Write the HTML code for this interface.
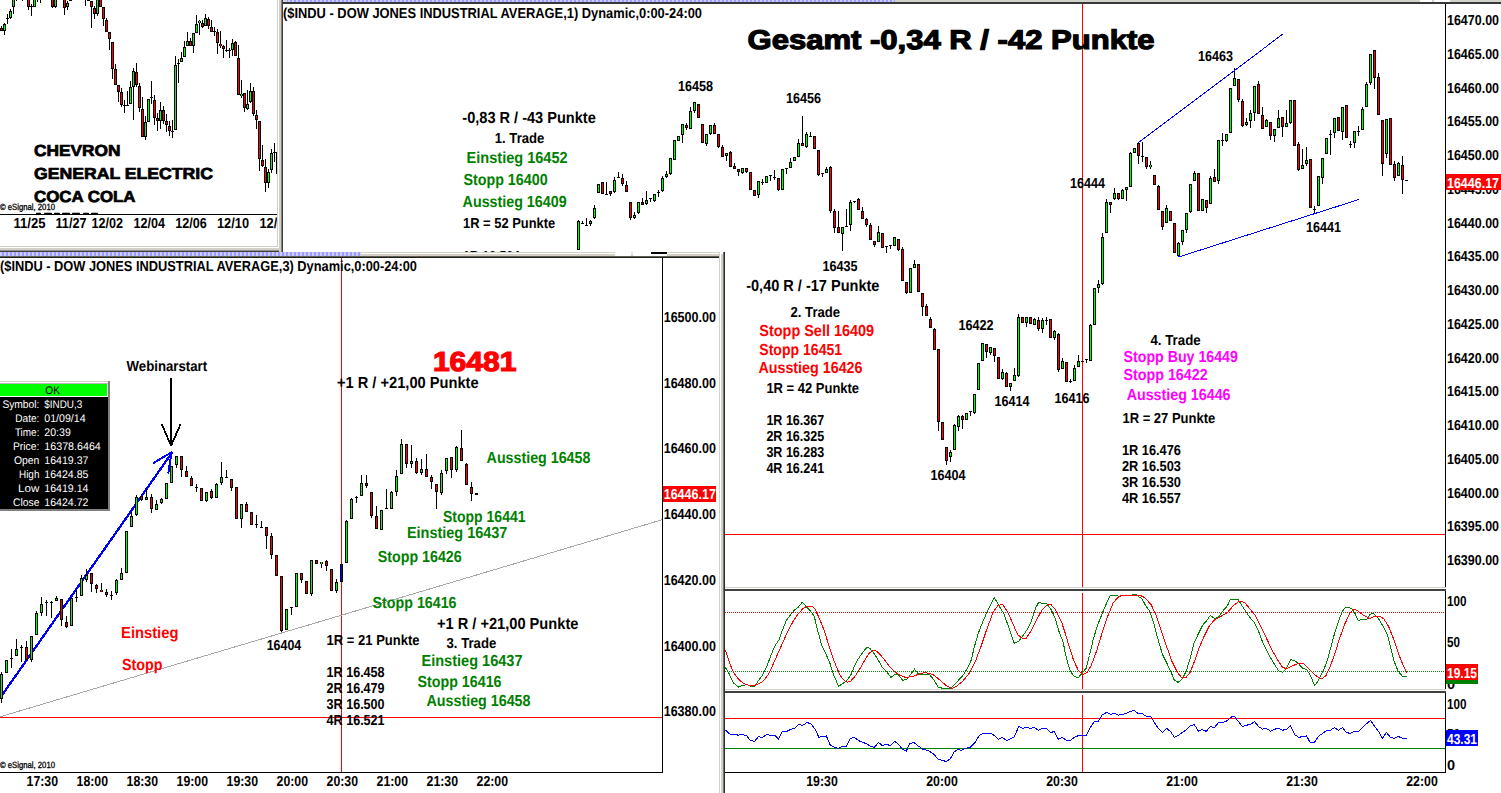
<!DOCTYPE html>
<html><head><meta charset="utf-8"><title>Chart</title>
<style>
html,body{margin:0;padding:0;background:#fff;overflow:hidden}
svg{display:block;font-family:"Liberation Sans",sans-serif;text-rendering:geometricPrecision}
text{white-space:pre}
</style></head>
<body>
<svg width="1501" height="793" viewBox="0 0 1501 793">
<defs>
<pattern id="purple" width="4" height="4" patternUnits="userSpaceOnUse"><rect width="4" height="4" fill="#ccccff"/><rect x="2" width="2" height="4" fill="#9c9cff"/></pattern>
<clipPath id="cTL"><rect x="0" y="0" width="277" height="246"/></clipPath>
<clipPath id="cTL4"><rect x="0" y="212.6" width="277" height="1.4"/></clipPath>
<clipPath id="cMain"><rect x="283" y="4" width="1162" height="583"/></clipPath>
<clipPath id="cT1"><rect x="283" y="0" width="500" height="252"/></clipPath>
<clipPath id="c45"><rect x="1446" y="190" width="55" height="10"/></clipPath>
<clipPath id="cBL"><rect x="0" y="258" width="662" height="514"/></clipPath>
</defs>
<rect x="0" y="0" width="1501" height="793" fill="#fff"/>
<g clip-path="url(#cTL)" shape-rendering="crispEdges">
<rect x="1" y="26" width="1" height="5" fill="#000"/>
<rect x="0" y="28" width="3" height="3" fill="#000"/>
<rect x="1" y="29" width="1" height="1" fill="#ff0000"/>
<rect x="4" y="23" width="1" height="12" fill="#000"/>
<rect x="3" y="24" width="3" height="7" fill="#000"/>
<rect x="4" y="25" width="1" height="5" fill="#00ff00"/>
<rect x="7" y="14" width="1" height="10" fill="#000"/>
<rect x="6" y="18" width="3" height="1" fill="#000"/>
<rect x="10" y="9" width="1" height="10" fill="#000"/>
<rect x="9" y="11" width="3" height="7" fill="#000"/>
<rect x="10" y="12" width="1" height="5" fill="#00ff00"/>
<rect x="13" y="-2" width="1" height="16" fill="#000"/>
<rect x="12" y="-2" width="3" height="9" fill="#000"/>
<rect x="13" y="-1" width="1" height="7" fill="#00ff00"/>
<rect x="16" y="-2" width="1" height="3" fill="#000"/>
<rect x="15" y="-2" width="3" height="1" fill="#000"/>
<rect x="22" y="-2" width="1" height="3" fill="#000"/>
<rect x="21" y="-2" width="3" height="1" fill="#000"/>
<rect x="28" y="-2" width="1" height="12" fill="#000"/>
<rect x="27" y="-2" width="3" height="9" fill="#000"/>
<rect x="28" y="-1" width="1" height="7" fill="#ff0000"/>
<rect x="31" y="4" width="1" height="12" fill="#000"/>
<rect x="30" y="6" width="3" height="1" fill="#000"/>
<rect x="33" y="-2" width="3" height="9" fill="#000"/>
<rect x="34" y="-1" width="1" height="7" fill="#00ff00"/>
<rect x="37" y="-2" width="1" height="4" fill="#000"/>
<rect x="36" y="-2" width="3" height="1" fill="#000"/>
<rect x="40" y="-2" width="1" height="5" fill="#000"/>
<rect x="39" y="-2" width="3" height="1" fill="#000"/>
<rect x="52" y="-2" width="1" height="10" fill="#000"/>
<rect x="51" y="-2" width="3" height="9" fill="#000"/>
<rect x="52" y="-1" width="1" height="7" fill="#ff0000"/>
<rect x="55" y="-2" width="1" height="10" fill="#000"/>
<rect x="54" y="-2" width="3" height="9" fill="#000"/>
<rect x="55" y="-1" width="1" height="7" fill="#00ff00"/>
<rect x="64" y="-2" width="1" height="17" fill="#000"/>
<rect x="63" y="-2" width="3" height="10" fill="#000"/>
<rect x="64" y="-1" width="1" height="8" fill="#ff0000"/>
<rect x="67" y="1" width="1" height="9" fill="#000"/>
<rect x="66" y="3" width="3" height="4" fill="#000"/>
<rect x="67" y="4" width="1" height="2" fill="#00ff00"/>
<rect x="69" y="-2" width="3" height="3" fill="#000"/>
<rect x="70" y="-1" width="1" height="1" fill="#00ff00"/>
<rect x="85" y="-2" width="1" height="8" fill="#000"/>
<rect x="84" y="-2" width="3" height="1" fill="#000"/>
<rect x="87" y="0" width="3" height="1" fill="#000"/>
<rect x="91" y="1" width="1" height="27" fill="#000"/>
<rect x="90" y="1" width="3" height="6" fill="#000"/>
<rect x="91" y="2" width="1" height="4" fill="#ff0000"/>
<rect x="94" y="6" width="1" height="13" fill="#000"/>
<rect x="93" y="8" width="3" height="6" fill="#000"/>
<rect x="94" y="9" width="1" height="4" fill="#ff0000"/>
<rect x="97" y="-2" width="1" height="18" fill="#000"/>
<rect x="96" y="-2" width="3" height="16" fill="#000"/>
<rect x="97" y="-1" width="1" height="14" fill="#00ff00"/>
<rect x="99" y="-2" width="3" height="9" fill="#000"/>
<rect x="100" y="-1" width="1" height="7" fill="#ff0000"/>
<rect x="103" y="7" width="1" height="19" fill="#000"/>
<rect x="102" y="7" width="3" height="12" fill="#000"/>
<rect x="103" y="8" width="1" height="10" fill="#ff0000"/>
<rect x="106" y="18" width="1" height="14" fill="#000"/>
<rect x="105" y="20" width="3" height="12" fill="#000"/>
<rect x="106" y="21" width="1" height="10" fill="#ff0000"/>
<rect x="109" y="32" width="1" height="18" fill="#000"/>
<rect x="108" y="32" width="3" height="7" fill="#000"/>
<rect x="109" y="33" width="1" height="5" fill="#ff0000"/>
<rect x="112" y="42" width="1" height="37" fill="#000"/>
<rect x="111" y="42" width="3" height="27" fill="#000"/>
<rect x="112" y="43" width="1" height="25" fill="#ff0000"/>
<rect x="115" y="64" width="1" height="21" fill="#000"/>
<rect x="114" y="69" width="3" height="16" fill="#000"/>
<rect x="115" y="70" width="1" height="14" fill="#ff0000"/>
<rect x="118" y="85" width="1" height="17" fill="#000"/>
<rect x="117" y="85" width="3" height="7" fill="#000"/>
<rect x="118" y="86" width="1" height="5" fill="#ff0000"/>
<rect x="121" y="88" width="1" height="19" fill="#000"/>
<rect x="120" y="92" width="3" height="13" fill="#000"/>
<rect x="121" y="93" width="1" height="11" fill="#ff0000"/>
<rect x="124" y="100" width="1" height="13" fill="#000"/>
<rect x="123" y="105" width="3" height="1" fill="#000"/>
<rect x="127" y="91" width="1" height="15" fill="#000"/>
<rect x="126" y="105" width="3" height="1" fill="#000"/>
<rect x="130" y="81" width="1" height="23" fill="#000"/>
<rect x="129" y="87" width="3" height="17" fill="#000"/>
<rect x="130" y="88" width="1" height="15" fill="#00ff00"/>
<rect x="133" y="68" width="1" height="52" fill="#000"/>
<rect x="132" y="71" width="3" height="16" fill="#000"/>
<rect x="133" y="72" width="1" height="14" fill="#00ff00"/>
<rect x="136" y="63" width="1" height="24" fill="#000"/>
<rect x="135" y="72" width="3" height="13" fill="#000"/>
<rect x="136" y="73" width="1" height="11" fill="#ff0000"/>
<rect x="139" y="83" width="1" height="29" fill="#000"/>
<rect x="138" y="86" width="3" height="22" fill="#000"/>
<rect x="139" y="87" width="1" height="20" fill="#ff0000"/>
<rect x="142" y="97" width="1" height="40" fill="#000"/>
<rect x="141" y="109" width="3" height="28" fill="#000"/>
<rect x="142" y="110" width="1" height="26" fill="#ff0000"/>
<rect x="145" y="116" width="1" height="24" fill="#000"/>
<rect x="144" y="122" width="3" height="15" fill="#000"/>
<rect x="145" y="123" width="1" height="13" fill="#00ff00"/>
<rect x="147" y="99" width="3" height="23" fill="#000"/>
<rect x="148" y="100" width="1" height="21" fill="#00ff00"/>
<rect x="151" y="81" width="1" height="23" fill="#000"/>
<rect x="150" y="97" width="3" height="1" fill="#000"/>
<rect x="154" y="95" width="1" height="30" fill="#000"/>
<rect x="153" y="100" width="3" height="18" fill="#000"/>
<rect x="154" y="101" width="1" height="16" fill="#ff0000"/>
<rect x="157" y="113" width="1" height="18" fill="#000"/>
<rect x="156" y="118" width="3" height="3" fill="#000"/>
<rect x="157" y="119" width="1" height="1" fill="#ff0000"/>
<rect x="160" y="102" width="1" height="27" fill="#000"/>
<rect x="159" y="110" width="3" height="11" fill="#000"/>
<rect x="160" y="111" width="1" height="9" fill="#00ff00"/>
<rect x="163" y="106" width="1" height="18" fill="#000"/>
<rect x="162" y="110" width="3" height="11" fill="#000"/>
<rect x="163" y="111" width="1" height="9" fill="#ff0000"/>
<rect x="166" y="114" width="1" height="18" fill="#000"/>
<rect x="165" y="121" width="3" height="4" fill="#000"/>
<rect x="166" y="122" width="1" height="2" fill="#ff0000"/>
<rect x="169" y="121" width="1" height="15" fill="#000"/>
<rect x="168" y="126" width="3" height="5" fill="#000"/>
<rect x="169" y="127" width="1" height="3" fill="#ff0000"/>
<rect x="172" y="120" width="1" height="18" fill="#000"/>
<rect x="171" y="131" width="3" height="1" fill="#000"/>
<rect x="175" y="56" width="1" height="74" fill="#000"/>
<rect x="174" y="65" width="3" height="65" fill="#000"/>
<rect x="175" y="66" width="1" height="63" fill="#00ff00"/>
<rect x="178" y="59" width="1" height="24" fill="#000"/>
<rect x="177" y="63" width="3" height="1" fill="#000"/>
<rect x="181" y="52" width="1" height="10" fill="#000"/>
<rect x="180" y="58" width="3" height="4" fill="#000"/>
<rect x="181" y="59" width="1" height="2" fill="#00ff00"/>
<rect x="184" y="41" width="1" height="16" fill="#000"/>
<rect x="183" y="47" width="3" height="10" fill="#000"/>
<rect x="184" y="48" width="1" height="8" fill="#00ff00"/>
<rect x="187" y="32" width="1" height="14" fill="#000"/>
<rect x="186" y="41" width="3" height="5" fill="#000"/>
<rect x="187" y="42" width="1" height="3" fill="#00ff00"/>
<rect x="190" y="38" width="1" height="8" fill="#000"/>
<rect x="189" y="41" width="3" height="5" fill="#000"/>
<rect x="190" y="42" width="1" height="3" fill="#ff0000"/>
<rect x="193" y="33" width="1" height="20" fill="#000"/>
<rect x="192" y="33" width="3" height="13" fill="#000"/>
<rect x="193" y="34" width="1" height="11" fill="#00ff00"/>
<rect x="196" y="15" width="1" height="18" fill="#000"/>
<rect x="195" y="24" width="3" height="9" fill="#000"/>
<rect x="196" y="25" width="1" height="7" fill="#00ff00"/>
<rect x="199" y="20" width="1" height="15" fill="#000"/>
<rect x="198" y="21" width="3" height="2" fill="#000"/>
<rect x="199" y="21" width="1" height="2" fill="#00ff00"/>
<rect x="202" y="20" width="1" height="8" fill="#000"/>
<rect x="201" y="23" width="3" height="4" fill="#000"/>
<rect x="202" y="24" width="1" height="2" fill="#ff0000"/>
<rect x="205" y="14" width="1" height="12" fill="#000"/>
<rect x="204" y="18" width="3" height="8" fill="#000"/>
<rect x="205" y="19" width="1" height="6" fill="#00ff00"/>
<rect x="208" y="17" width="1" height="12" fill="#000"/>
<rect x="207" y="19" width="3" height="7" fill="#000"/>
<rect x="208" y="20" width="1" height="5" fill="#ff0000"/>
<rect x="211" y="20" width="1" height="12" fill="#000"/>
<rect x="210" y="27" width="3" height="5" fill="#000"/>
<rect x="211" y="28" width="1" height="3" fill="#ff0000"/>
<rect x="214" y="27" width="1" height="9" fill="#000"/>
<rect x="213" y="31" width="3" height="1" fill="#000"/>
<rect x="217" y="29" width="1" height="25" fill="#000"/>
<rect x="216" y="32" width="3" height="11" fill="#000"/>
<rect x="217" y="33" width="1" height="9" fill="#ff0000"/>
<rect x="220" y="31" width="1" height="17" fill="#000"/>
<rect x="219" y="44" width="3" height="2" fill="#000"/>
<rect x="220" y="44" width="1" height="2" fill="#ff0000"/>
<rect x="223" y="45" width="1" height="13" fill="#000"/>
<rect x="222" y="46" width="3" height="3" fill="#000"/>
<rect x="223" y="47" width="1" height="1" fill="#ff0000"/>
<rect x="226" y="40" width="1" height="12" fill="#000"/>
<rect x="225" y="50" width="3" height="1" fill="#000"/>
<rect x="229" y="48" width="1" height="10" fill="#000"/>
<rect x="228" y="50" width="3" height="1" fill="#000"/>
<rect x="232" y="39" width="1" height="17" fill="#000"/>
<rect x="231" y="43" width="3" height="7" fill="#000"/>
<rect x="232" y="44" width="1" height="5" fill="#00ff00"/>
<rect x="235" y="41" width="1" height="15" fill="#000"/>
<rect x="234" y="42" width="3" height="14" fill="#000"/>
<rect x="235" y="43" width="1" height="12" fill="#ff0000"/>
<rect x="238" y="45" width="1" height="50" fill="#000"/>
<rect x="237" y="58" width="3" height="37" fill="#000"/>
<rect x="238" y="59" width="1" height="35" fill="#ff0000"/>
<rect x="241" y="80" width="1" height="18" fill="#000"/>
<rect x="240" y="94" width="3" height="2" fill="#000"/>
<rect x="241" y="94" width="1" height="2" fill="#00ff00"/>
<rect x="244" y="93" width="1" height="19" fill="#000"/>
<rect x="243" y="93" width="3" height="15" fill="#000"/>
<rect x="244" y="94" width="1" height="13" fill="#ff0000"/>
<rect x="247" y="90" width="1" height="20" fill="#000"/>
<rect x="246" y="104" width="3" height="5" fill="#000"/>
<rect x="247" y="105" width="1" height="3" fill="#00ff00"/>
<rect x="250" y="83" width="1" height="20" fill="#000"/>
<rect x="249" y="91" width="3" height="11" fill="#000"/>
<rect x="250" y="92" width="1" height="9" fill="#00ff00"/>
<rect x="253" y="87" width="1" height="29" fill="#000"/>
<rect x="252" y="91" width="3" height="23" fill="#000"/>
<rect x="253" y="92" width="1" height="21" fill="#ff0000"/>
<rect x="256" y="110" width="1" height="19" fill="#000"/>
<rect x="255" y="115" width="3" height="5" fill="#000"/>
<rect x="256" y="116" width="1" height="3" fill="#ff0000"/>
<rect x="259" y="121" width="1" height="50" fill="#000"/>
<rect x="258" y="121" width="3" height="38" fill="#000"/>
<rect x="259" y="122" width="1" height="36" fill="#ff0000"/>
<rect x="262" y="145" width="1" height="22" fill="#000"/>
<rect x="261" y="160" width="3" height="6" fill="#000"/>
<rect x="262" y="161" width="1" height="4" fill="#ff0000"/>
<rect x="265" y="159" width="1" height="33" fill="#000"/>
<rect x="264" y="167" width="3" height="16" fill="#000"/>
<rect x="265" y="168" width="1" height="14" fill="#ff0000"/>
<rect x="268" y="169" width="1" height="19" fill="#000"/>
<rect x="267" y="172" width="3" height="11" fill="#000"/>
<rect x="268" y="173" width="1" height="9" fill="#00ff00"/>
<rect x="271" y="149" width="1" height="24" fill="#000"/>
<rect x="270" y="153" width="3" height="17" fill="#000"/>
<rect x="271" y="154" width="1" height="15" fill="#00ff00"/>
<rect x="274" y="143" width="1" height="19" fill="#000"/>
<rect x="273" y="152" width="3" height="1" fill="#000"/>
<rect x="276" y="152" width="1" height="22" fill="#000"/>
</g>
<g clip-path="url(#cTL)">
<text x="34" y="155.5" font-size="16" font-weight="bold" fill="#000" textLength="86.5" lengthAdjust="spacingAndGlyphs" stroke="#000" stroke-width="0.7" paint-order="stroke">CHEVRON</text>
<text x="34" y="178.6" font-size="16" font-weight="bold" fill="#000" textLength="179" lengthAdjust="spacingAndGlyphs" stroke="#000" stroke-width="0.7" paint-order="stroke">GENERAL ELECTRIC</text>
<text x="34" y="201.6" font-size="16" font-weight="bold" fill="#000" textLength="101.5" lengthAdjust="spacingAndGlyphs" stroke="#000" stroke-width="0.7" paint-order="stroke">COCA COLA</text>
<rect x="36" y="212.8" width="5" height="1.3" fill="#000" rx="0.6"/>
<rect x="44" y="212.8" width="8" height="1.3" fill="#000" rx="0.6"/>
<rect x="54" y="212.8" width="6" height="1.3" fill="#000" rx="0.6"/>
<rect x="62" y="212.8" width="8" height="1.3" fill="#000" rx="0.6"/>
<rect x="72" y="212.8" width="8" height="1.3" fill="#000" rx="0.6"/>
<rect x="83" y="212.8" width="6" height="1.3" fill="#000" rx="0.6"/>
<rect x="91" y="212.8" width="7" height="1.3" fill="#000" rx="0.6"/>
<text x="0" y="210.3" font-size="9" font-weight="normal" fill="#000" textLength="55" lengthAdjust="spacingAndGlyphs" stroke="#000" stroke-width="0.3">© eSignal, 2010</text>
<rect x="0" y="214" width="277" height="1" fill="#000"/>
<text x="13.5" y="227.6" font-size="14.5" font-weight="bold" fill="#000" textLength="32" lengthAdjust="spacingAndGlyphs">11/25</text>
<text x="55.5" y="227.6" font-size="14.5" font-weight="bold" fill="#000" textLength="31" lengthAdjust="spacingAndGlyphs">11/27</text>
<text x="91.5" y="227.6" font-size="14.5" font-weight="bold" fill="#000" textLength="31.5" lengthAdjust="spacingAndGlyphs">12/02</text>
<text x="133.5" y="227.6" font-size="14.5" font-weight="bold" fill="#000" textLength="31.5" lengthAdjust="spacingAndGlyphs">12/04</text>
<text x="175.3" y="227.6" font-size="14.5" font-weight="bold" fill="#000" textLength="31.5" lengthAdjust="spacingAndGlyphs">12/06</text>
<text x="217" y="227.6" font-size="14.5" font-weight="bold" fill="#000" textLength="32" lengthAdjust="spacingAndGlyphs">12/10</text>
<text x="259.5" y="227.6" font-size="14.5" font-weight="bold" fill="#000" textLength="32" lengthAdjust="spacingAndGlyphs">12/12</text>
</g>
<g shape-rendering="crispEdges">
<rect x="277" y="0" width="1" height="252" fill="#d0d0c8"/>
<rect x="278" y="0" width="1" height="252" fill="#fff"/>
<rect x="279" y="0" width="2" height="252" fill="#d4d0c8"/>
<rect x="281" y="0" width="1" height="793" fill="#808080"/>
<rect x="282" y="0" width="1" height="793" fill="#404040"/>
<rect x="0" y="246" width="278" height="1" fill="#d0d0c8"/>
<rect x="0" y="247" width="278" height="1" fill="#fff"/>
<rect x="0" y="248" width="279" height="2" fill="#d4d0c8"/>
<rect x="0" y="250" width="279" height="1" fill="#909090"/>
<rect x="0" y="251" width="279" height="1" fill="#404040"/>
</g>
<g shape-rendering="crispEdges">
<rect x="283" y="0" width="1218" height="2" fill="#d0d4c8"/>
<rect x="287" y="0" width="608" height="2" fill="url(#purple)"/>
<rect x="1420" y="0" width="12" height="2" fill="#fff"/>
<rect x="1434" y="0" width="16" height="2" fill="#fff"/>
<rect x="283" y="2" width="1218" height="2" fill="#383838"/>
<rect x="1445" y="4" width="1" height="769" fill="#000"/>
<rect x="725" y="772" width="721" height="1" fill="#000"/>
<rect x="725" y="587" width="721" height="1" fill="#d0d4c8"/>
<rect x="725" y="588" width="721" height="1" fill="#fff"/>
<rect x="725" y="589" width="721" height="2" fill="#404040"/>
<rect x="725" y="689" width="721" height="1" fill="#d0d4c8"/>
<rect x="725" y="690" width="721" height="1" fill="#fff"/>
<rect x="725" y="691" width="721" height="2" fill="#404040"/>
<rect x="1082" y="4" width="1" height="583" fill="#ff0000"/>
<rect x="1082" y="593" width="1" height="96" fill="#ff0000"/>
<rect x="1082" y="695" width="1" height="77" fill="#ff0000"/>
<rect x="725" y="534" width="720" height="1" fill="#ff0000"/>
<rect x="725" y="718" width="720" height="1" fill="#ff0000"/>
<rect x="725" y="748" width="720" height="1" fill="#008000"/>
</g>
<line x1="725" y1="612.5" x2="1445" y2="612.5" stroke="#ff0000" stroke-width="1" stroke-dasharray="1 1" shape-rendering="crispEdges"/>
<line x1="725" y1="671.5" x2="1445" y2="671.5" stroke="#008000" stroke-width="1" stroke-dasharray="1 1" shape-rendering="crispEdges"/>
<g clip-path="url(#cMain)" shape-rendering="crispEdges">
<rect x="578" y="220" width="1" height="30" fill="#000"/>
<rect x="577" y="221" width="3" height="29" fill="#000"/>
<rect x="578" y="222" width="1" height="27" fill="#00ff00"/>
<rect x="582" y="221" width="1" height="3" fill="#000"/>
<rect x="581" y="223" width="3" height="1" fill="#000"/>
<rect x="586" y="218" width="1" height="8" fill="#000"/>
<rect x="585" y="225" width="3" height="1" fill="#000"/>
<rect x="590" y="220" width="1" height="6" fill="#000"/>
<rect x="589" y="221" width="3" height="3" fill="#000"/>
<rect x="590" y="222" width="1" height="1" fill="#00ff00"/>
<rect x="594" y="205" width="1" height="14" fill="#000"/>
<rect x="593" y="208" width="3" height="10" fill="#000"/>
<rect x="594" y="209" width="1" height="8" fill="#00ff00"/>
<rect x="597" y="184" width="3" height="9" fill="#000"/>
<rect x="598" y="185" width="1" height="7" fill="#00ff00"/>
<rect x="601" y="182" width="3" height="12" fill="#000"/>
<rect x="602" y="183" width="1" height="10" fill="#ff0000"/>
<rect x="606" y="182" width="1" height="13" fill="#000"/>
<rect x="605" y="194" width="3" height="1" fill="#000"/>
<rect x="610" y="191" width="1" height="5" fill="#000"/>
<rect x="609" y="191" width="3" height="3" fill="#000"/>
<rect x="610" y="192" width="1" height="1" fill="#ff0000"/>
<rect x="614" y="177" width="1" height="16" fill="#000"/>
<rect x="613" y="180" width="3" height="12" fill="#000"/>
<rect x="614" y="181" width="1" height="10" fill="#00ff00"/>
<rect x="618" y="172" width="1" height="6" fill="#000"/>
<rect x="617" y="177" width="3" height="1" fill="#000"/>
<rect x="622" y="174" width="1" height="12" fill="#000"/>
<rect x="621" y="178" width="3" height="6" fill="#000"/>
<rect x="622" y="179" width="1" height="4" fill="#ff0000"/>
<rect x="626" y="181" width="1" height="11" fill="#000"/>
<rect x="625" y="185" width="3" height="7" fill="#000"/>
<rect x="626" y="186" width="1" height="5" fill="#ff0000"/>
<rect x="630" y="202" width="1" height="18" fill="#000"/>
<rect x="629" y="202" width="3" height="16" fill="#000"/>
<rect x="630" y="203" width="1" height="14" fill="#ff0000"/>
<rect x="634" y="212" width="1" height="7" fill="#000"/>
<rect x="633" y="215" width="3" height="3" fill="#000"/>
<rect x="634" y="216" width="1" height="1" fill="#00ff00"/>
<rect x="638" y="202" width="1" height="12" fill="#000"/>
<rect x="637" y="202" width="3" height="11" fill="#000"/>
<rect x="638" y="203" width="1" height="9" fill="#00ff00"/>
<rect x="642" y="198" width="1" height="7" fill="#000"/>
<rect x="641" y="202" width="3" height="3" fill="#000"/>
<rect x="642" y="203" width="1" height="1" fill="#ff0000"/>
<rect x="646" y="191" width="1" height="14" fill="#000"/>
<rect x="645" y="200" width="3" height="4" fill="#000"/>
<rect x="646" y="201" width="1" height="2" fill="#00ff00"/>
<rect x="650" y="198" width="1" height="4" fill="#000"/>
<rect x="649" y="198" width="3" height="1" fill="#000"/>
<rect x="654" y="194" width="1" height="8" fill="#000"/>
<rect x="653" y="194" width="3" height="7" fill="#000"/>
<rect x="654" y="195" width="1" height="5" fill="#00ff00"/>
<rect x="658" y="190" width="1" height="7" fill="#000"/>
<rect x="657" y="192" width="3" height="1" fill="#000"/>
<rect x="662" y="176" width="1" height="16" fill="#000"/>
<rect x="661" y="178" width="3" height="13" fill="#000"/>
<rect x="662" y="179" width="1" height="11" fill="#00ff00"/>
<rect x="666" y="171" width="1" height="7" fill="#000"/>
<rect x="665" y="174" width="3" height="3" fill="#000"/>
<rect x="666" y="175" width="1" height="1" fill="#00ff00"/>
<rect x="670" y="158" width="1" height="17" fill="#000"/>
<rect x="669" y="158" width="3" height="16" fill="#000"/>
<rect x="670" y="159" width="1" height="14" fill="#00ff00"/>
<rect x="673" y="140" width="3" height="20" fill="#000"/>
<rect x="674" y="141" width="1" height="18" fill="#00ff00"/>
<rect x="677" y="136" width="3" height="5" fill="#000"/>
<rect x="678" y="137" width="1" height="3" fill="#00ff00"/>
<rect x="682" y="124" width="1" height="19" fill="#000"/>
<rect x="681" y="124" width="3" height="11" fill="#000"/>
<rect x="682" y="125" width="1" height="9" fill="#00ff00"/>
<rect x="686" y="123" width="1" height="7" fill="#000"/>
<rect x="685" y="125" width="3" height="3" fill="#000"/>
<rect x="686" y="126" width="1" height="1" fill="#ff0000"/>
<rect x="690" y="107" width="1" height="22" fill="#000"/>
<rect x="689" y="111" width="3" height="18" fill="#000"/>
<rect x="690" y="112" width="1" height="16" fill="#00ff00"/>
<rect x="694" y="102" width="1" height="11" fill="#000"/>
<rect x="693" y="102" width="3" height="9" fill="#000"/>
<rect x="694" y="103" width="1" height="7" fill="#00ff00"/>
<rect x="697" y="104" width="3" height="14" fill="#000"/>
<rect x="698" y="105" width="1" height="12" fill="#ff0000"/>
<rect x="701" y="124" width="3" height="19" fill="#000"/>
<rect x="702" y="125" width="1" height="17" fill="#ff0000"/>
<rect x="706" y="134" width="1" height="12" fill="#000"/>
<rect x="705" y="134" width="3" height="10" fill="#000"/>
<rect x="706" y="135" width="1" height="8" fill="#00ff00"/>
<rect x="710" y="125" width="1" height="10" fill="#000"/>
<rect x="709" y="125" width="3" height="9" fill="#000"/>
<rect x="710" y="126" width="1" height="7" fill="#00ff00"/>
<rect x="714" y="123" width="1" height="11" fill="#000"/>
<rect x="713" y="125" width="3" height="9" fill="#000"/>
<rect x="714" y="126" width="1" height="7" fill="#ff0000"/>
<rect x="718" y="134" width="1" height="14" fill="#000"/>
<rect x="717" y="134" width="3" height="13" fill="#000"/>
<rect x="718" y="135" width="1" height="11" fill="#ff0000"/>
<rect x="722" y="145" width="1" height="12" fill="#000"/>
<rect x="721" y="147" width="3" height="10" fill="#000"/>
<rect x="722" y="148" width="1" height="8" fill="#ff0000"/>
<rect x="726" y="153" width="1" height="8" fill="#000"/>
<rect x="725" y="153" width="3" height="3" fill="#000"/>
<rect x="726" y="154" width="1" height="1" fill="#00ff00"/>
<rect x="730" y="151" width="1" height="16" fill="#000"/>
<rect x="729" y="152" width="3" height="15" fill="#000"/>
<rect x="730" y="153" width="1" height="13" fill="#ff0000"/>
<rect x="734" y="163" width="1" height="6" fill="#000"/>
<rect x="733" y="166" width="3" height="3" fill="#000"/>
<rect x="734" y="167" width="1" height="1" fill="#ff0000"/>
<rect x="738" y="169" width="1" height="7" fill="#000"/>
<rect x="737" y="169" width="3" height="3" fill="#000"/>
<rect x="738" y="170" width="1" height="1" fill="#ff0000"/>
<rect x="742" y="168" width="1" height="6" fill="#000"/>
<rect x="741" y="168" width="3" height="5" fill="#000"/>
<rect x="742" y="169" width="1" height="3" fill="#00ff00"/>
<rect x="746" y="168" width="1" height="5" fill="#000"/>
<rect x="745" y="168" width="3" height="4" fill="#000"/>
<rect x="746" y="169" width="1" height="2" fill="#ff0000"/>
<rect x="749" y="172" width="3" height="18" fill="#000"/>
<rect x="750" y="173" width="1" height="16" fill="#ff0000"/>
<rect x="753" y="190" width="3" height="6" fill="#000"/>
<rect x="754" y="191" width="1" height="4" fill="#ff0000"/>
<rect x="758" y="181" width="1" height="17" fill="#000"/>
<rect x="757" y="181" width="3" height="14" fill="#000"/>
<rect x="758" y="182" width="1" height="12" fill="#00ff00"/>
<rect x="762" y="179" width="1" height="6" fill="#000"/>
<rect x="761" y="182" width="3" height="1" fill="#000"/>
<rect x="765" y="176" width="3" height="7" fill="#000"/>
<rect x="766" y="177" width="1" height="5" fill="#00ff00"/>
<rect x="770" y="175" width="1" height="6" fill="#000"/>
<rect x="769" y="175" width="3" height="1" fill="#000"/>
<rect x="774" y="170" width="1" height="10" fill="#000"/>
<rect x="773" y="177" width="3" height="1" fill="#000"/>
<rect x="778" y="178" width="1" height="13" fill="#000"/>
<rect x="777" y="178" width="3" height="12" fill="#000"/>
<rect x="778" y="179" width="1" height="10" fill="#ff0000"/>
<rect x="781" y="169" width="3" height="21" fill="#000"/>
<rect x="782" y="170" width="1" height="19" fill="#00ff00"/>
<rect x="786" y="168" width="1" height="6" fill="#000"/>
<rect x="785" y="168" width="3" height="1" fill="#000"/>
<rect x="790" y="158" width="1" height="10" fill="#000"/>
<rect x="789" y="162" width="3" height="6" fill="#000"/>
<rect x="790" y="163" width="1" height="4" fill="#00ff00"/>
<rect x="793" y="157" width="3" height="4" fill="#000"/>
<rect x="794" y="158" width="1" height="2" fill="#00ff00"/>
<rect x="798" y="139" width="1" height="18" fill="#000"/>
<rect x="797" y="143" width="3" height="14" fill="#000"/>
<rect x="798" y="144" width="1" height="12" fill="#00ff00"/>
<rect x="802" y="116" width="1" height="30" fill="#000"/>
<rect x="801" y="143" width="3" height="3" fill="#000"/>
<rect x="802" y="144" width="1" height="1" fill="#ff0000"/>
<rect x="806" y="132" width="1" height="16" fill="#000"/>
<rect x="805" y="134" width="3" height="13" fill="#000"/>
<rect x="806" y="135" width="1" height="11" fill="#00ff00"/>
<rect x="810" y="132" width="1" height="5" fill="#000"/>
<rect x="809" y="136" width="3" height="1" fill="#000"/>
<rect x="813" y="136" width="3" height="13" fill="#000"/>
<rect x="814" y="137" width="1" height="11" fill="#ff0000"/>
<rect x="818" y="150" width="1" height="26" fill="#000"/>
<rect x="817" y="150" width="3" height="25" fill="#000"/>
<rect x="818" y="151" width="1" height="23" fill="#ff0000"/>
<rect x="822" y="173" width="1" height="4" fill="#000"/>
<rect x="821" y="173" width="3" height="1" fill="#000"/>
<rect x="826" y="167" width="1" height="6" fill="#000"/>
<rect x="825" y="169" width="3" height="4" fill="#000"/>
<rect x="826" y="170" width="1" height="2" fill="#00ff00"/>
<rect x="830" y="166" width="1" height="47" fill="#000"/>
<rect x="829" y="167" width="3" height="44" fill="#000"/>
<rect x="830" y="168" width="1" height="42" fill="#ff0000"/>
<rect x="834" y="209" width="1" height="24" fill="#000"/>
<rect x="833" y="211" width="3" height="17" fill="#000"/>
<rect x="834" y="212" width="1" height="15" fill="#ff0000"/>
<rect x="838" y="211" width="1" height="22" fill="#000"/>
<rect x="837" y="227" width="3" height="6" fill="#000"/>
<rect x="838" y="228" width="1" height="4" fill="#ff0000"/>
<rect x="842" y="227" width="1" height="24" fill="#000"/>
<rect x="841" y="227" width="3" height="7" fill="#000"/>
<rect x="842" y="228" width="1" height="5" fill="#00ff00"/>
<rect x="846" y="209" width="1" height="18" fill="#000"/>
<rect x="845" y="226" width="3" height="1" fill="#000"/>
<rect x="850" y="200" width="1" height="31" fill="#000"/>
<rect x="849" y="202" width="3" height="23" fill="#000"/>
<rect x="850" y="203" width="1" height="21" fill="#00ff00"/>
<rect x="854" y="201" width="1" height="2" fill="#000"/>
<rect x="853" y="201" width="3" height="1" fill="#000"/>
<rect x="858" y="198" width="1" height="12" fill="#000"/>
<rect x="857" y="199" width="3" height="11" fill="#000"/>
<rect x="858" y="200" width="1" height="9" fill="#ff0000"/>
<rect x="862" y="207" width="1" height="12" fill="#000"/>
<rect x="861" y="211" width="3" height="8" fill="#000"/>
<rect x="862" y="212" width="1" height="6" fill="#ff0000"/>
<rect x="866" y="218" width="1" height="9" fill="#000"/>
<rect x="865" y="219" width="3" height="6" fill="#000"/>
<rect x="866" y="220" width="1" height="4" fill="#ff0000"/>
<rect x="870" y="223" width="1" height="17" fill="#000"/>
<rect x="869" y="225" width="3" height="15" fill="#000"/>
<rect x="870" y="226" width="1" height="13" fill="#ff0000"/>
<rect x="874" y="241" width="1" height="6" fill="#000"/>
<rect x="873" y="241" width="3" height="4" fill="#000"/>
<rect x="874" y="242" width="1" height="2" fill="#ff0000"/>
<rect x="878" y="226" width="1" height="16" fill="#000"/>
<rect x="877" y="232" width="3" height="10" fill="#000"/>
<rect x="878" y="233" width="1" height="8" fill="#00ff00"/>
<rect x="881" y="233" width="3" height="15" fill="#000"/>
<rect x="882" y="234" width="1" height="13" fill="#ff0000"/>
<rect x="886" y="246" width="1" height="7" fill="#000"/>
<rect x="885" y="246" width="3" height="1" fill="#000"/>
<rect x="890" y="245" width="1" height="4" fill="#000"/>
<rect x="889" y="245" width="3" height="1" fill="#000"/>
<rect x="893" y="237" width="3" height="9" fill="#000"/>
<rect x="894" y="238" width="1" height="7" fill="#00ff00"/>
<rect x="898" y="239" width="1" height="12" fill="#000"/>
<rect x="897" y="239" width="3" height="11" fill="#000"/>
<rect x="898" y="240" width="1" height="9" fill="#ff0000"/>
<rect x="902" y="247" width="1" height="34" fill="#000"/>
<rect x="901" y="249" width="3" height="32" fill="#000"/>
<rect x="902" y="250" width="1" height="30" fill="#ff0000"/>
<rect x="906" y="282" width="1" height="12" fill="#000"/>
<rect x="905" y="282" width="3" height="11" fill="#000"/>
<rect x="906" y="283" width="1" height="9" fill="#ff0000"/>
<rect x="909" y="268" width="3" height="25" fill="#000"/>
<rect x="910" y="269" width="1" height="23" fill="#00ff00"/>
<rect x="914" y="260" width="1" height="8" fill="#000"/>
<rect x="913" y="264" width="3" height="4" fill="#000"/>
<rect x="914" y="265" width="1" height="2" fill="#00ff00"/>
<rect x="917" y="264" width="3" height="28" fill="#000"/>
<rect x="918" y="265" width="1" height="26" fill="#ff0000"/>
<rect x="922" y="293" width="1" height="23" fill="#000"/>
<rect x="921" y="293" width="3" height="14" fill="#000"/>
<rect x="922" y="294" width="1" height="12" fill="#ff0000"/>
<rect x="926" y="304" width="1" height="12" fill="#000"/>
<rect x="925" y="306" width="3" height="10" fill="#000"/>
<rect x="926" y="307" width="1" height="8" fill="#ff0000"/>
<rect x="930" y="317" width="1" height="11" fill="#000"/>
<rect x="929" y="319" width="3" height="9" fill="#000"/>
<rect x="930" y="320" width="1" height="7" fill="#ff0000"/>
<rect x="934" y="328" width="1" height="22" fill="#000"/>
<rect x="933" y="329" width="3" height="21" fill="#000"/>
<rect x="934" y="330" width="1" height="19" fill="#ff0000"/>
<rect x="938" y="349" width="1" height="82" fill="#000"/>
<rect x="937" y="349" width="3" height="73" fill="#000"/>
<rect x="938" y="350" width="1" height="71" fill="#ff0000"/>
<rect x="941" y="422" width="3" height="18" fill="#000"/>
<rect x="942" y="423" width="1" height="16" fill="#ff0000"/>
<rect x="946" y="447" width="1" height="18" fill="#000"/>
<rect x="945" y="447" width="3" height="14" fill="#000"/>
<rect x="946" y="448" width="1" height="12" fill="#ff0000"/>
<rect x="950" y="450" width="1" height="12" fill="#000"/>
<rect x="949" y="452" width="3" height="5" fill="#000"/>
<rect x="950" y="453" width="1" height="3" fill="#00ff00"/>
<rect x="954" y="424" width="1" height="26" fill="#000"/>
<rect x="953" y="425" width="3" height="25" fill="#000"/>
<rect x="954" y="426" width="1" height="23" fill="#00ff00"/>
<rect x="958" y="415" width="1" height="16" fill="#000"/>
<rect x="957" y="416" width="3" height="11" fill="#000"/>
<rect x="958" y="417" width="1" height="9" fill="#00ff00"/>
<rect x="962" y="415" width="1" height="14" fill="#000"/>
<rect x="961" y="416" width="3" height="4" fill="#000"/>
<rect x="962" y="417" width="1" height="2" fill="#ff0000"/>
<rect x="965" y="413" width="3" height="7" fill="#000"/>
<rect x="966" y="414" width="1" height="5" fill="#00ff00"/>
<rect x="970" y="411" width="1" height="5" fill="#000"/>
<rect x="969" y="411" width="3" height="1" fill="#000"/>
<rect x="974" y="394" width="1" height="20" fill="#000"/>
<rect x="973" y="394" width="3" height="19" fill="#000"/>
<rect x="974" y="395" width="1" height="17" fill="#00ff00"/>
<rect x="977" y="363" width="3" height="27" fill="#000"/>
<rect x="978" y="364" width="1" height="25" fill="#00ff00"/>
<rect x="981" y="343" width="3" height="18" fill="#000"/>
<rect x="982" y="344" width="1" height="16" fill="#00ff00"/>
<rect x="986" y="344" width="1" height="14" fill="#000"/>
<rect x="985" y="344" width="3" height="8" fill="#000"/>
<rect x="986" y="345" width="1" height="6" fill="#ff0000"/>
<rect x="990" y="347" width="1" height="8" fill="#000"/>
<rect x="989" y="347" width="3" height="6" fill="#000"/>
<rect x="990" y="348" width="1" height="4" fill="#00ff00"/>
<rect x="994" y="348" width="1" height="14" fill="#000"/>
<rect x="993" y="348" width="3" height="8" fill="#000"/>
<rect x="994" y="349" width="1" height="6" fill="#ff0000"/>
<rect x="997" y="357" width="3" height="22" fill="#000"/>
<rect x="998" y="358" width="1" height="20" fill="#ff0000"/>
<rect x="1002" y="369" width="1" height="11" fill="#000"/>
<rect x="1001" y="372" width="3" height="7" fill="#000"/>
<rect x="1002" y="373" width="1" height="5" fill="#00ff00"/>
<rect x="1006" y="372" width="1" height="15" fill="#000"/>
<rect x="1005" y="373" width="3" height="14" fill="#000"/>
<rect x="1006" y="374" width="1" height="12" fill="#ff0000"/>
<rect x="1010" y="383" width="1" height="8" fill="#000"/>
<rect x="1009" y="383" width="3" height="4" fill="#000"/>
<rect x="1010" y="384" width="1" height="2" fill="#00ff00"/>
<rect x="1014" y="368" width="1" height="13" fill="#000"/>
<rect x="1013" y="375" width="3" height="6" fill="#000"/>
<rect x="1014" y="376" width="1" height="4" fill="#00ff00"/>
<rect x="1018" y="314" width="1" height="63" fill="#000"/>
<rect x="1017" y="317" width="3" height="59" fill="#000"/>
<rect x="1018" y="318" width="1" height="57" fill="#00ff00"/>
<rect x="1021" y="317" width="3" height="6" fill="#000"/>
<rect x="1022" y="318" width="1" height="4" fill="#ff0000"/>
<rect x="1026" y="317" width="1" height="10" fill="#000"/>
<rect x="1025" y="317" width="3" height="6" fill="#000"/>
<rect x="1026" y="318" width="1" height="4" fill="#00ff00"/>
<rect x="1029" y="317" width="3" height="7" fill="#000"/>
<rect x="1030" y="318" width="1" height="5" fill="#ff0000"/>
<rect x="1034" y="318" width="1" height="7" fill="#000"/>
<rect x="1033" y="319" width="3" height="6" fill="#000"/>
<rect x="1034" y="320" width="1" height="4" fill="#00ff00"/>
<rect x="1038" y="317" width="1" height="14" fill="#000"/>
<rect x="1037" y="320" width="3" height="9" fill="#000"/>
<rect x="1038" y="321" width="1" height="7" fill="#ff0000"/>
<rect x="1042" y="318" width="1" height="15" fill="#000"/>
<rect x="1041" y="320" width="3" height="9" fill="#000"/>
<rect x="1042" y="321" width="1" height="7" fill="#00ff00"/>
<rect x="1046" y="317" width="1" height="8" fill="#000"/>
<rect x="1045" y="320" width="3" height="1" fill="#000"/>
<rect x="1049" y="319" width="3" height="19" fill="#000"/>
<rect x="1050" y="320" width="1" height="17" fill="#ff0000"/>
<rect x="1054" y="330" width="1" height="10" fill="#000"/>
<rect x="1053" y="331" width="3" height="7" fill="#000"/>
<rect x="1054" y="332" width="1" height="5" fill="#00ff00"/>
<rect x="1058" y="333" width="1" height="39" fill="#000"/>
<rect x="1057" y="334" width="3" height="36" fill="#000"/>
<rect x="1058" y="335" width="1" height="34" fill="#ff0000"/>
<rect x="1062" y="358" width="1" height="11" fill="#000"/>
<rect x="1061" y="361" width="3" height="8" fill="#000"/>
<rect x="1062" y="362" width="1" height="6" fill="#00ff00"/>
<rect x="1065" y="362" width="3" height="20" fill="#000"/>
<rect x="1066" y="363" width="1" height="18" fill="#ff0000"/>
<rect x="1070" y="379" width="1" height="4" fill="#000"/>
<rect x="1069" y="381" width="3" height="1" fill="#000"/>
<rect x="1074" y="365" width="1" height="16" fill="#000"/>
<rect x="1073" y="368" width="3" height="13" fill="#000"/>
<rect x="1074" y="369" width="1" height="11" fill="#00ff00"/>
<rect x="1078" y="355" width="1" height="12" fill="#000"/>
<rect x="1077" y="361" width="3" height="6" fill="#000"/>
<rect x="1078" y="362" width="1" height="4" fill="#00ff00"/>
<rect x="1081" y="361" width="3" height="1" fill="#000"/>
<rect x="1086" y="359" width="1" height="4" fill="#000"/>
<rect x="1085" y="359" width="3" height="1" fill="#000"/>
<rect x="1090" y="324" width="1" height="37" fill="#000"/>
<rect x="1089" y="325" width="3" height="36" fill="#000"/>
<rect x="1090" y="326" width="1" height="34" fill="#00ff00"/>
<rect x="1093" y="288" width="3" height="37" fill="#000"/>
<rect x="1094" y="289" width="1" height="35" fill="#00ff00"/>
<rect x="1098" y="280" width="1" height="13" fill="#000"/>
<rect x="1097" y="284" width="3" height="4" fill="#000"/>
<rect x="1098" y="285" width="1" height="2" fill="#00ff00"/>
<rect x="1102" y="233" width="1" height="52" fill="#000"/>
<rect x="1101" y="237" width="3" height="47" fill="#000"/>
<rect x="1102" y="238" width="1" height="45" fill="#00ff00"/>
<rect x="1106" y="199" width="1" height="34" fill="#000"/>
<rect x="1105" y="202" width="3" height="31" fill="#000"/>
<rect x="1106" y="203" width="1" height="29" fill="#00ff00"/>
<rect x="1110" y="202" width="1" height="11" fill="#000"/>
<rect x="1109" y="202" width="3" height="3" fill="#000"/>
<rect x="1110" y="203" width="1" height="1" fill="#ff0000"/>
<rect x="1114" y="188" width="1" height="12" fill="#000"/>
<rect x="1113" y="193" width="3" height="6" fill="#000"/>
<rect x="1114" y="194" width="1" height="4" fill="#00ff00"/>
<rect x="1118" y="193" width="1" height="7" fill="#000"/>
<rect x="1117" y="193" width="3" height="6" fill="#000"/>
<rect x="1118" y="194" width="1" height="4" fill="#ff0000"/>
<rect x="1122" y="189" width="1" height="10" fill="#000"/>
<rect x="1121" y="190" width="3" height="9" fill="#000"/>
<rect x="1122" y="191" width="1" height="7" fill="#00ff00"/>
<rect x="1126" y="187" width="1" height="14" fill="#000"/>
<rect x="1125" y="187" width="3" height="3" fill="#000"/>
<rect x="1126" y="188" width="1" height="1" fill="#00ff00"/>
<rect x="1130" y="152" width="1" height="35" fill="#000"/>
<rect x="1129" y="153" width="3" height="34" fill="#000"/>
<rect x="1130" y="154" width="1" height="32" fill="#00ff00"/>
<rect x="1133" y="148" width="3" height="5" fill="#000"/>
<rect x="1134" y="149" width="1" height="3" fill="#00ff00"/>
<rect x="1138" y="143" width="1" height="21" fill="#000"/>
<rect x="1137" y="143" width="3" height="13" fill="#000"/>
<rect x="1138" y="144" width="1" height="11" fill="#ff0000"/>
<rect x="1142" y="142" width="1" height="20" fill="#000"/>
<rect x="1141" y="156" width="3" height="1" fill="#000"/>
<rect x="1146" y="157" width="1" height="12" fill="#000"/>
<rect x="1145" y="157" width="3" height="10" fill="#000"/>
<rect x="1146" y="158" width="1" height="8" fill="#ff0000"/>
<rect x="1150" y="161" width="1" height="8" fill="#000"/>
<rect x="1149" y="165" width="3" height="2" fill="#000"/>
<rect x="1150" y="165" width="1" height="2" fill="#00ff00"/>
<rect x="1153" y="175" width="3" height="10" fill="#000"/>
<rect x="1154" y="176" width="1" height="8" fill="#ff0000"/>
<rect x="1158" y="185" width="1" height="25" fill="#000"/>
<rect x="1157" y="186" width="3" height="24" fill="#000"/>
<rect x="1158" y="187" width="1" height="22" fill="#ff0000"/>
<rect x="1162" y="211" width="1" height="19" fill="#000"/>
<rect x="1161" y="211" width="3" height="16" fill="#000"/>
<rect x="1162" y="212" width="1" height="14" fill="#ff0000"/>
<rect x="1166" y="205" width="1" height="18" fill="#000"/>
<rect x="1165" y="208" width="3" height="15" fill="#000"/>
<rect x="1166" y="209" width="1" height="13" fill="#00ff00"/>
<rect x="1169" y="211" width="3" height="10" fill="#000"/>
<rect x="1170" y="212" width="1" height="8" fill="#ff0000"/>
<rect x="1173" y="223" width="3" height="30" fill="#000"/>
<rect x="1174" y="224" width="1" height="28" fill="#ff0000"/>
<rect x="1178" y="242" width="1" height="15" fill="#000"/>
<rect x="1177" y="243" width="3" height="13" fill="#000"/>
<rect x="1178" y="244" width="1" height="11" fill="#00ff00"/>
<rect x="1182" y="230" width="1" height="15" fill="#000"/>
<rect x="1181" y="230" width="3" height="12" fill="#000"/>
<rect x="1182" y="231" width="1" height="10" fill="#00ff00"/>
<rect x="1186" y="213" width="1" height="20" fill="#000"/>
<rect x="1185" y="213" width="3" height="17" fill="#000"/>
<rect x="1186" y="214" width="1" height="15" fill="#00ff00"/>
<rect x="1190" y="184" width="1" height="29" fill="#000"/>
<rect x="1189" y="184" width="3" height="28" fill="#000"/>
<rect x="1190" y="185" width="1" height="26" fill="#00ff00"/>
<rect x="1194" y="171" width="1" height="10" fill="#000"/>
<rect x="1193" y="173" width="3" height="8" fill="#000"/>
<rect x="1194" y="174" width="1" height="6" fill="#00ff00"/>
<rect x="1197" y="173" width="3" height="38" fill="#000"/>
<rect x="1198" y="174" width="1" height="36" fill="#ff0000"/>
<rect x="1201" y="199" width="3" height="12" fill="#000"/>
<rect x="1202" y="200" width="1" height="10" fill="#00ff00"/>
<rect x="1206" y="200" width="1" height="13" fill="#000"/>
<rect x="1205" y="200" width="3" height="8" fill="#000"/>
<rect x="1206" y="201" width="1" height="6" fill="#ff0000"/>
<rect x="1210" y="176" width="1" height="28" fill="#000"/>
<rect x="1209" y="178" width="3" height="26" fill="#000"/>
<rect x="1210" y="179" width="1" height="24" fill="#00ff00"/>
<rect x="1214" y="169" width="1" height="13" fill="#000"/>
<rect x="1213" y="177" width="3" height="5" fill="#000"/>
<rect x="1214" y="178" width="1" height="3" fill="#ff0000"/>
<rect x="1218" y="140" width="1" height="44" fill="#000"/>
<rect x="1217" y="140" width="3" height="41" fill="#000"/>
<rect x="1218" y="141" width="1" height="39" fill="#00ff00"/>
<rect x="1222" y="133" width="1" height="13" fill="#000"/>
<rect x="1221" y="140" width="3" height="1" fill="#000"/>
<rect x="1226" y="134" width="1" height="8" fill="#000"/>
<rect x="1225" y="134" width="3" height="7" fill="#000"/>
<rect x="1226" y="135" width="1" height="5" fill="#00ff00"/>
<rect x="1229" y="88" width="3" height="45" fill="#000"/>
<rect x="1230" y="89" width="1" height="43" fill="#00ff00"/>
<rect x="1234" y="68" width="1" height="18" fill="#000"/>
<rect x="1233" y="78" width="3" height="8" fill="#000"/>
<rect x="1234" y="79" width="1" height="6" fill="#00ff00"/>
<rect x="1238" y="79" width="1" height="23" fill="#000"/>
<rect x="1237" y="79" width="3" height="21" fill="#000"/>
<rect x="1238" y="80" width="1" height="19" fill="#ff0000"/>
<rect x="1242" y="99" width="1" height="28" fill="#000"/>
<rect x="1241" y="101" width="3" height="25" fill="#000"/>
<rect x="1242" y="102" width="1" height="23" fill="#ff0000"/>
<rect x="1246" y="118" width="1" height="8" fill="#000"/>
<rect x="1245" y="122" width="3" height="3" fill="#000"/>
<rect x="1246" y="123" width="1" height="1" fill="#00ff00"/>
<rect x="1250" y="110" width="1" height="18" fill="#000"/>
<rect x="1249" y="113" width="3" height="8" fill="#000"/>
<rect x="1250" y="114" width="1" height="6" fill="#00ff00"/>
<rect x="1254" y="86" width="1" height="35" fill="#000"/>
<rect x="1253" y="86" width="3" height="27" fill="#000"/>
<rect x="1254" y="87" width="1" height="25" fill="#00ff00"/>
<rect x="1258" y="81" width="1" height="33" fill="#000"/>
<rect x="1257" y="84" width="3" height="30" fill="#000"/>
<rect x="1258" y="85" width="1" height="28" fill="#ff0000"/>
<rect x="1262" y="107" width="1" height="22" fill="#000"/>
<rect x="1261" y="115" width="3" height="14" fill="#000"/>
<rect x="1262" y="116" width="1" height="12" fill="#ff0000"/>
<rect x="1266" y="119" width="1" height="8" fill="#000"/>
<rect x="1265" y="120" width="3" height="7" fill="#000"/>
<rect x="1266" y="121" width="1" height="5" fill="#00ff00"/>
<rect x="1270" y="122" width="1" height="18" fill="#000"/>
<rect x="1269" y="122" width="3" height="14" fill="#000"/>
<rect x="1270" y="123" width="1" height="12" fill="#ff0000"/>
<rect x="1274" y="129" width="1" height="13" fill="#000"/>
<rect x="1273" y="129" width="3" height="7" fill="#000"/>
<rect x="1274" y="130" width="1" height="5" fill="#00ff00"/>
<rect x="1278" y="110" width="1" height="18" fill="#000"/>
<rect x="1277" y="118" width="3" height="10" fill="#000"/>
<rect x="1278" y="119" width="1" height="8" fill="#00ff00"/>
<rect x="1282" y="117" width="1" height="20" fill="#000"/>
<rect x="1281" y="117" width="3" height="10" fill="#000"/>
<rect x="1282" y="118" width="1" height="8" fill="#ff0000"/>
<rect x="1286" y="110" width="1" height="17" fill="#000"/>
<rect x="1285" y="123" width="3" height="4" fill="#000"/>
<rect x="1286" y="124" width="1" height="2" fill="#00ff00"/>
<rect x="1290" y="100" width="1" height="24" fill="#000"/>
<rect x="1289" y="100" width="3" height="23" fill="#000"/>
<rect x="1290" y="101" width="1" height="21" fill="#00ff00"/>
<rect x="1293" y="100" width="3" height="46" fill="#000"/>
<rect x="1294" y="101" width="1" height="44" fill="#ff0000"/>
<rect x="1298" y="142" width="1" height="29" fill="#000"/>
<rect x="1297" y="144" width="3" height="26" fill="#000"/>
<rect x="1298" y="145" width="1" height="24" fill="#ff0000"/>
<rect x="1302" y="149" width="1" height="20" fill="#000"/>
<rect x="1301" y="165" width="3" height="4" fill="#000"/>
<rect x="1302" y="166" width="1" height="2" fill="#00ff00"/>
<rect x="1306" y="147" width="1" height="19" fill="#000"/>
<rect x="1305" y="160" width="3" height="4" fill="#000"/>
<rect x="1306" y="161" width="1" height="2" fill="#00ff00"/>
<rect x="1309" y="159" width="3" height="49" fill="#000"/>
<rect x="1310" y="160" width="1" height="47" fill="#ff0000"/>
<rect x="1314" y="206" width="1" height="8" fill="#000"/>
<rect x="1313" y="209" width="3" height="1" fill="#000"/>
<rect x="1317" y="176" width="3" height="30" fill="#000"/>
<rect x="1318" y="177" width="1" height="28" fill="#00ff00"/>
<rect x="1322" y="158" width="1" height="26" fill="#000"/>
<rect x="1321" y="158" width="3" height="20" fill="#000"/>
<rect x="1322" y="159" width="1" height="18" fill="#00ff00"/>
<rect x="1325" y="138" width="3" height="16" fill="#000"/>
<rect x="1326" y="139" width="1" height="14" fill="#00ff00"/>
<rect x="1330" y="130" width="1" height="25" fill="#000"/>
<rect x="1329" y="134" width="3" height="1" fill="#000"/>
<rect x="1334" y="118" width="1" height="20" fill="#000"/>
<rect x="1333" y="118" width="3" height="15" fill="#000"/>
<rect x="1334" y="119" width="1" height="13" fill="#00ff00"/>
<rect x="1337" y="117" width="3" height="14" fill="#000"/>
<rect x="1338" y="118" width="1" height="12" fill="#ff0000"/>
<rect x="1342" y="107" width="1" height="33" fill="#000"/>
<rect x="1341" y="107" width="3" height="25" fill="#000"/>
<rect x="1342" y="108" width="1" height="23" fill="#00ff00"/>
<rect x="1345" y="105" width="3" height="33" fill="#000"/>
<rect x="1346" y="106" width="1" height="31" fill="#ff0000"/>
<rect x="1350" y="141" width="1" height="7" fill="#000"/>
<rect x="1349" y="144" width="3" height="1" fill="#000"/>
<rect x="1354" y="131" width="1" height="17" fill="#000"/>
<rect x="1353" y="131" width="3" height="12" fill="#000"/>
<rect x="1354" y="132" width="1" height="10" fill="#00ff00"/>
<rect x="1358" y="126" width="1" height="10" fill="#000"/>
<rect x="1357" y="131" width="3" height="1" fill="#000"/>
<rect x="1362" y="107" width="1" height="23" fill="#000"/>
<rect x="1361" y="109" width="3" height="21" fill="#000"/>
<rect x="1362" y="110" width="1" height="19" fill="#00ff00"/>
<rect x="1366" y="82" width="1" height="25" fill="#000"/>
<rect x="1365" y="84" width="3" height="23" fill="#000"/>
<rect x="1366" y="85" width="1" height="21" fill="#00ff00"/>
<rect x="1370" y="54" width="1" height="31" fill="#000"/>
<rect x="1369" y="54" width="3" height="29" fill="#000"/>
<rect x="1370" y="55" width="1" height="27" fill="#00ff00"/>
<rect x="1374" y="50" width="1" height="39" fill="#000"/>
<rect x="1373" y="50" width="3" height="28" fill="#000"/>
<rect x="1374" y="51" width="1" height="26" fill="#ff0000"/>
<rect x="1378" y="73" width="1" height="42" fill="#000"/>
<rect x="1377" y="77" width="3" height="38" fill="#000"/>
<rect x="1378" y="78" width="1" height="36" fill="#ff0000"/>
<rect x="1382" y="120" width="1" height="56" fill="#000"/>
<rect x="1381" y="120" width="3" height="44" fill="#000"/>
<rect x="1382" y="121" width="1" height="42" fill="#ff0000"/>
<rect x="1386" y="119" width="1" height="39" fill="#000"/>
<rect x="1385" y="119" width="3" height="35" fill="#000"/>
<rect x="1386" y="120" width="1" height="33" fill="#00ff00"/>
<rect x="1389" y="118" width="3" height="47" fill="#000"/>
<rect x="1390" y="119" width="1" height="45" fill="#ff0000"/>
<rect x="1394" y="161" width="1" height="20" fill="#000"/>
<rect x="1393" y="164" width="3" height="14" fill="#000"/>
<rect x="1394" y="165" width="1" height="12" fill="#ff0000"/>
<rect x="1398" y="162" width="1" height="14" fill="#000"/>
<rect x="1397" y="163" width="3" height="13" fill="#000"/>
<rect x="1398" y="164" width="1" height="11" fill="#00ff00"/>
<rect x="1402" y="156" width="1" height="38" fill="#000"/>
<rect x="1401" y="165" width="3" height="15" fill="#000"/>
<rect x="1402" y="166" width="1" height="13" fill="#ff0000"/>
<rect x="1405" y="180" width="3" height="1" fill="#000"/>
</g>
<line x1="1138.5" y1="142.5" x2="1283" y2="34" stroke="#0000ff" stroke-width="1" shape-rendering="crispEdges"/>
<line x1="1178.5" y1="257" x2="1359" y2="199.5" stroke="#0000ff" stroke-width="1" shape-rendering="crispEdges"/>
<polyline points="725.3,667.2 729.3,674.1 733.3,682.7 738.6,687.1 742.5,685.4 747.2,684.7 750.5,686.3 754.5,686.3 758.4,680.7 762.4,675.4 766.4,667.5 770.4,656.9 774.3,646.9 779.0,639.7 782.3,630.4 786.3,620.5 790.2,615.2 794.2,610.3 798.2,607.2 802.4,602.2 806.1,606.5 810.1,610.5 814.1,615.8 818.0,631.7 822.0,646.3 826.6,655.5 830.0,663.5 833.9,675.4 838.6,686.3 843.2,683.4 847.8,679.4 851.2,674.1 854.5,666.1 857.8,659.5 862.4,652.9 867.0,647.2 869.7,648.3 873.7,652.9 877.6,658.9 882.3,667.5 886.9,672.1 890.9,677.4 895.5,674.1 899.0,675.4 902.9,680.5 907.6,678.7 910.9,674.1 914.5,669.2 918.8,674.4 929.4,674.4 934.1,680.1 938.0,687.1 942.7,688.3 950.6,688.3 954.6,684.7 958.6,680.1 962.5,676.1 967.2,668.8 971.2,660.2 974.5,646.3 978.4,633.0 983.1,621.1 987.7,610.5 994.3,597.5 999.0,605.9 1003.6,613.2 1008.9,627.7 1014.2,643.2 1018.8,641.0 1023.5,635.0 1027.5,629.1 1031.4,621.1 1035.4,608.5 1038.7,602.2 1042.0,603.2 1046.7,603.6 1051.3,609.9 1055.3,618.5 1058.6,630.4 1063.2,642.3 1065.0,651.6 1067.6,662.2 1070.3,671.4 1074.3,676.5 1078.2,677.7 1082.4,672.8 1086.2,668.1 1089.5,655.5 1093.5,638.3 1098.1,623.8 1103.4,610.5 1107.4,601.2 1110.4,595.3 1116.7,595.3 1119.3,596.6 1121.3,595.5 1131.9,595.3 1133.9,594.2 1135.9,594.6 1138.5,596.6 1141.8,598.6 1145.8,605.9 1149.8,611.2 1153.7,623.1 1157.7,638.3 1162.4,654.2 1167.0,663.5 1171.0,672.1 1174.3,680.1 1178.2,682.4 1182.2,678.7 1186.2,671.4 1190.2,658.2 1194.1,643.0 1198.1,634.4 1202.7,625.1 1207.4,619.8 1210.3,615.4 1214.7,618.7 1218.6,617.1 1222.6,611.2 1227.3,605.9 1230.3,599.5 1238.3,599.5 1241.6,605.2 1245.6,611.2 1249.6,617.1 1254.2,622.4 1258.2,630.4 1262.2,641.0 1266.1,648.9 1270.1,656.9 1274.7,664.8 1278.7,670.8 1282.7,672.4 1286.0,668.8 1290.6,659.5 1294.6,660.6 1298.6,663.8 1302.5,668.1 1306.5,669.5 1310.5,675.4 1314.5,685.6 1318.4,680.7 1322.4,672.1 1326.4,663.5 1330.4,648.9 1334.3,634.4 1338.3,621.8 1342.3,611.2 1344.9,608.1 1348.2,607.5 1351.6,608.5 1354.9,613.2 1358.2,620.5 1362.1,619.4 1366.8,619.4 1370.1,614.5 1373.4,613.2 1378.0,617.8 1382.0,624.4 1387.3,634.4 1390.6,647.6 1393.9,660.8 1397.9,670.8 1402.5,676.5 1406.8,676.5" fill="none" stroke="#008000" stroke-width="1" shape-rendering="crispEdges"/>
<polyline points="725.3,650.3 729.3,662.2 733.3,672.1 738.6,679.4 743.9,683.8 749.2,685.4 754.5,685.4 762.4,682.0 767.7,675.4 771.7,667.5 777.0,655.5 782.3,643.6 787.6,631.7 792.9,621.8 798.2,613.8 803.5,608.1 808.1,606.3 812.1,606.5 814.7,608.5 819.4,618.5 824.7,631.7 828.6,645.0 832.6,656.9 836.6,667.5 840.6,676.1 843.9,680.1 847.2,682.3 850.5,681.4 855.1,676.1 859.1,670.1 864.4,660.8 869.0,653.3 873.0,650.3 877.0,651.3 881.6,656.2 886.3,662.2 890.9,668.1 895.5,672.3 900.3,675.4 905.6,677.4 912.2,676.7 918.8,674.1 925.5,672.5 933.4,674.8 940.0,680.1 946.7,686.0 952.0,688.4 955.9,686.7 962.5,681.4 969.2,673.4 975.8,660.2 981.1,646.3 986.4,630.4 993.0,612.5 997.6,605.9 1002.3,604.2 1007.6,611.8 1012.9,623.8 1017.5,634.4 1022.2,638.3 1026.1,638.3 1031.4,630.4 1036.7,619.8 1042.0,609.9 1047.3,604.6 1050.6,604.2 1055.3,609.2 1061.9,623.1 1065.0,632.4 1069.0,646.3 1073.6,660.2 1078.2,670.1 1082.9,674.4 1086.9,672.8 1091.5,664.8 1096.8,650.3 1102.1,633.0 1107.4,617.1 1113.3,602.6 1118.0,597.5 1121.3,595.5 1140.5,595.5 1144.5,597.5 1151.1,604.6 1156.4,615.8 1161.7,631.7 1167.0,647.6 1172.3,662.2 1177.6,672.8 1182.2,678.1 1186.2,677.4 1190.2,672.1 1194.1,662.2 1198.8,648.9 1203.4,637.7 1209.4,625.7 1214.7,619.8 1220.6,616.5 1227.3,612.5 1233.9,605.2 1238.5,601.9 1240.3,601.2 1244.3,602.3 1249.6,608.5 1255.5,615.8 1261.5,627.7 1266.8,639.0 1272.1,650.3 1277.4,659.5 1282.0,666.8 1286.0,668.8 1292.0,666.1 1298.6,663.2 1303.2,663.5 1307.8,667.5 1313.1,673.4 1317.8,677.0 1321.8,678.7 1325.7,676.1 1329.7,667.5 1334.3,655.5 1339.6,638.3 1344.9,623.8 1350.2,612.5 1354.2,609.2 1358.2,611.2 1363.5,615.2 1369.4,618.5 1374.7,616.5 1380.0,616.2 1384.0,619.1 1388.6,626.4 1393.9,639.7 1399.2,655.5 1403.8,666.8 1406.8,672.5" fill="none" stroke="#ff0000" stroke-width="1" shape-rendering="crispEdges"/>
<polyline points="725.6,730.3 730.4,734.5 736.0,734.5 738.4,735.3 741.6,734.3 746.4,735.6 750.4,740.4 754.4,741.5 758.4,736.7 762.4,737.5 766.9,734.5 770.4,735.4 775.2,735.6 778.4,739.1 782.4,731.6 786.4,731.6 790.4,729.5 794.4,728.4 798.4,724.4 802.4,725.5 807.1,722.5 811.1,723.9 815.1,729.2 818.8,737.2 823.1,736.4 826.3,735.9 830.3,745.2 834.3,747.2 838.3,748.4 842.3,746.3 846.3,746.3 850.3,738.4 854.3,737.5 858.3,740.4 862.3,742.3 866.3,743.6 870.3,746.0 874.3,747.6 878.3,742.4 882.3,745.5 886.3,744.4 890.3,745.5 894.8,741.5 898.3,744.0 902.3,749.2 906.3,751.1 909.5,743.9 913.5,742.3 918.3,746.0 923.1,749.5 927.9,750.4 932.7,753.2 938.3,759.2 942.3,760.4 946.3,761.5 950.3,758.8 954.3,751.6 958.3,749.5 961.7,750.3 965.6,748.4 970.4,747.2 975.2,742.3 979.2,735.6 983.2,733.2 986.4,734.0 990.4,733.2 994.4,735.6 998.4,739.2 1001.9,737.5 1006.7,740.4 1010.8,738.8 1014.4,736.7 1018.7,726.5 1022.7,728.4 1026.4,727.3 1030.4,728.4 1034.4,727.6 1038.3,730.3 1042.3,728.4 1046.3,728.4 1050.7,732.4 1054.3,731.6 1058.3,739.1 1062.3,737.5 1066.3,740.4 1070.3,740.4 1074.3,737.5 1078.3,735.6 1086.3,735.6 1090.3,727.6 1094.3,721.7 1098.3,721.2 1102.3,714.8 1106.6,712.4 1110.3,714.3 1114.3,713.5 1118.6,715.1 1122.3,714.3 1126.3,713.5 1130.3,711.3 1134.3,710.5 1138.3,713.5 1142.3,713.7 1146.3,716.4 1150.8,716.7 1154.3,722.5 1158.3,728.4 1162.6,732.4 1166.6,728.4 1170.3,731.3 1174.3,737.2 1178.3,735.3 1182.3,732.4 1186.3,730.0 1190.3,726.0 1194.3,724.6 1198.5,731.3 1202.2,729.5 1206.2,731.3 1210.5,726.5 1214.5,727.6 1218.5,722.5 1223.0,722.5 1226.5,721.2 1231.0,717.2 1234.2,716.1 1238.5,721.7 1242.5,726.5 1246.5,725.2 1250.5,724.4 1254.5,721.5 1258.5,726.5 1262.5,729.2 1266.5,728.4 1270.5,731.3 1274.5,729.2 1278.5,728.4 1282.5,730.3 1286.5,729.2 1290.5,725.5 1294.5,734.5 1298.9,737.5 1302.5,736.4 1306.5,735.9 1310.1,742.3 1314.4,742.3 1318.4,736.4 1322.4,733.5 1326.4,730.8 1330.4,730.3 1334.4,727.6 1338.4,730.3 1342.4,727.6 1346.4,732.4 1350.1,733.5 1354.1,731.6 1358.4,731.6 1364.5,725.5 1370.6,720.4 1374.9,726.8 1378.9,731.9 1382.4,738.4 1386.4,732.4 1390.4,737.2 1394.1,738.4 1398.1,736.4 1402.4,738.3 1406.9,738.4" fill="none" stroke="#0000ff" stroke-width="1" shape-rendering="crispEdges"/>
<text x="283" y="17.5" font-size="14.5" font-weight="bold" fill="#000" textLength="419" lengthAdjust="spacingAndGlyphs">($INDU - DOW JONES INDUSTRIAL AVERAGE,1) Dynamic,0:00-24:00</text>
<text x="747.5" y="49.4" font-size="27" font-weight="bold" fill="#000" textLength="407" lengthAdjust="spacingAndGlyphs" stroke="#000" stroke-width="1.2" paint-order="stroke">Gesamt -0,34 R / -42 Punkte</text>
<text x="678" y="91.2" font-size="14.5" font-weight="bold" fill="#000" textLength="35" lengthAdjust="spacingAndGlyphs">16458</text>
<text x="786" y="103.2" font-size="14.5" font-weight="bold" fill="#000" textLength="35" lengthAdjust="spacingAndGlyphs">16456</text>
<text x="822.5" y="271.0" font-size="14.5" font-weight="bold" fill="#000" textLength="35" lengthAdjust="spacingAndGlyphs">16435</text>
<text x="958.5" y="329.7" font-size="14.5" font-weight="bold" fill="#000" textLength="35" lengthAdjust="spacingAndGlyphs">16422</text>
<text x="994.5" y="405.7" font-size="14.5" font-weight="bold" fill="#000" textLength="35" lengthAdjust="spacingAndGlyphs">16414</text>
<text x="1054.5" y="403.2" font-size="14.5" font-weight="bold" fill="#000" textLength="35" lengthAdjust="spacingAndGlyphs">16416</text>
<text x="930.5" y="480.2" font-size="14.5" font-weight="bold" fill="#000" textLength="35" lengthAdjust="spacingAndGlyphs">16404</text>
<text x="1070" y="187.7" font-size="14.5" font-weight="bold" fill="#000" textLength="35" lengthAdjust="spacingAndGlyphs">16444</text>
<text x="1198" y="61.2" font-size="14.5" font-weight="bold" fill="#000" textLength="35" lengthAdjust="spacingAndGlyphs">16463</text>
<text x="1306" y="232.2" font-size="14.5" font-weight="bold" fill="#000" textLength="35" lengthAdjust="spacingAndGlyphs">16441</text>
<text x="462.3" y="123.1" font-size="16" font-weight="bold" fill="#000" textLength="133.5" lengthAdjust="spacingAndGlyphs">-0,83 R / -43 Punkte</text>
<text x="494.8" y="143.3" font-size="14.5" font-weight="bold" fill="#000" textLength="49.5" lengthAdjust="spacingAndGlyphs">1. Trade</text>
<text x="466.6" y="162.9" font-size="16" font-weight="bold" fill="#008000" textLength="101" lengthAdjust="spacingAndGlyphs">Einstieg 16452</text>
<text x="463.4" y="184.8" font-size="16" font-weight="bold" fill="#008000" textLength="84.2" lengthAdjust="spacingAndGlyphs">Stopp 16400</text>
<text x="462.6" y="206.7" font-size="16" font-weight="bold" fill="#008000" textLength="104" lengthAdjust="spacingAndGlyphs">Ausstieg 16409</text>
<text x="463" y="228.0" font-size="14.5" font-weight="bold" fill="#000" textLength="92.2" lengthAdjust="spacingAndGlyphs">1R = 52 Punkte</text>
<g clip-path="url(#cT1)"><text x="463" y="260.8" font-size="14.5" font-weight="bold" fill="#000" textLength="57" lengthAdjust="spacingAndGlyphs">1R 16.504</text></g>
<text x="746.2" y="290.9" font-size="16" font-weight="bold" fill="#000" textLength="133.2" lengthAdjust="spacingAndGlyphs">-0,40 R / -17 Punkte</text>
<text x="790.5" y="316.5" font-size="14.5" font-weight="bold" fill="#000" textLength="49.6" lengthAdjust="spacingAndGlyphs">2. Trade</text>
<text x="759.3" y="336.3" font-size="16" font-weight="bold" fill="#ff0000" textLength="114.8" lengthAdjust="spacingAndGlyphs">Stopp Sell 16409</text>
<text x="759.3" y="354.7" font-size="16" font-weight="bold" fill="#ff0000" textLength="82.8" lengthAdjust="spacingAndGlyphs">Stopp 16451</text>
<text x="758.4" y="373.2" font-size="16" font-weight="bold" fill="#ff0000" textLength="104.1" lengthAdjust="spacingAndGlyphs">Ausstieg 16426</text>
<text x="766.4" y="393.0" font-size="14.5" font-weight="bold" fill="#000" textLength="92.7" lengthAdjust="spacingAndGlyphs">1R = 42 Punkte</text>
<text x="766.4" y="424.8" font-size="14.5" font-weight="bold" fill="#000" textLength="57.8" lengthAdjust="spacingAndGlyphs">1R 16.367</text>
<text x="766.4" y="440.87" font-size="14.5" font-weight="bold" fill="#000" textLength="57.8" lengthAdjust="spacingAndGlyphs">2R 16.325</text>
<text x="766.4" y="456.94" font-size="14.5" font-weight="bold" fill="#000" textLength="57.8" lengthAdjust="spacingAndGlyphs">3R 16.283</text>
<text x="766.4" y="473.01" font-size="14.5" font-weight="bold" fill="#000" textLength="57.8" lengthAdjust="spacingAndGlyphs">4R 16.241</text>
<text x="1150.5" y="345.3" font-size="14.5" font-weight="bold" fill="#000" textLength="50.1" lengthAdjust="spacingAndGlyphs">4. Trade</text>
<text x="1123.6" y="362.1" font-size="16" font-weight="bold" fill="#ff00ff" textLength="114.3" lengthAdjust="spacingAndGlyphs">Stopp Buy 16449</text>
<text x="1123.6" y="380.3" font-size="16" font-weight="bold" fill="#ff00ff" textLength="84" lengthAdjust="spacingAndGlyphs">Stopp 16422</text>
<text x="1126.7" y="400.1" font-size="16" font-weight="bold" fill="#ff00ff" textLength="103.8" lengthAdjust="spacingAndGlyphs">Ausstieg 16446</text>
<text x="1122.4" y="422.8" font-size="14.5" font-weight="bold" fill="#000" textLength="92.9" lengthAdjust="spacingAndGlyphs">1R = 27 Punkte</text>
<text x="1121.9" y="455.2" font-size="14.5" font-weight="bold" fill="#000" textLength="59.1" lengthAdjust="spacingAndGlyphs">1R 16.476</text>
<text x="1121.9" y="471.13" font-size="14.5" font-weight="bold" fill="#000" textLength="59.1" lengthAdjust="spacingAndGlyphs">2R 16.503</text>
<text x="1121.9" y="487.06" font-size="14.5" font-weight="bold" fill="#000" textLength="59.1" lengthAdjust="spacingAndGlyphs">3R 16.530</text>
<text x="1121.9" y="502.99" font-size="14.5" font-weight="bold" fill="#000" textLength="59.1" lengthAdjust="spacingAndGlyphs">4R 16.557</text>
<text x="1447" y="25.1" font-size="14.5" font-weight="bold" fill="#000" textLength="52" lengthAdjust="spacingAndGlyphs">16470.00</text>
<text x="1447" y="58.85" font-size="14.5" font-weight="bold" fill="#000" textLength="52" lengthAdjust="spacingAndGlyphs">16465.00</text>
<text x="1447" y="92.6" font-size="14.5" font-weight="bold" fill="#000" textLength="52" lengthAdjust="spacingAndGlyphs">16460.00</text>
<text x="1447" y="126.35" font-size="14.5" font-weight="bold" fill="#000" textLength="52" lengthAdjust="spacingAndGlyphs">16455.00</text>
<text x="1447" y="160.1" font-size="14.5" font-weight="bold" fill="#000" textLength="52" lengthAdjust="spacingAndGlyphs">16450.00</text>
<g clip-path="url(#c45)"><text x="1447" y="193.85" font-size="14.5" font-weight="bold" fill="#000" textLength="52" lengthAdjust="spacingAndGlyphs">16445.00</text></g>
<text x="1447" y="227.6" font-size="14.5" font-weight="bold" fill="#000" textLength="52" lengthAdjust="spacingAndGlyphs">16440.00</text>
<text x="1447" y="261.35" font-size="14.5" font-weight="bold" fill="#000" textLength="52" lengthAdjust="spacingAndGlyphs">16435.00</text>
<text x="1447" y="295.1" font-size="14.5" font-weight="bold" fill="#000" textLength="52" lengthAdjust="spacingAndGlyphs">16430.00</text>
<text x="1447" y="328.85" font-size="14.5" font-weight="bold" fill="#000" textLength="52" lengthAdjust="spacingAndGlyphs">16425.00</text>
<text x="1447" y="362.6" font-size="14.5" font-weight="bold" fill="#000" textLength="52" lengthAdjust="spacingAndGlyphs">16420.00</text>
<text x="1447" y="396.35" font-size="14.5" font-weight="bold" fill="#000" textLength="52" lengthAdjust="spacingAndGlyphs">16415.00</text>
<text x="1447" y="430.1" font-size="14.5" font-weight="bold" fill="#000" textLength="52" lengthAdjust="spacingAndGlyphs">16410.00</text>
<text x="1447" y="463.85" font-size="14.5" font-weight="bold" fill="#000" textLength="52" lengthAdjust="spacingAndGlyphs">16405.00</text>
<text x="1447" y="497.6" font-size="14.5" font-weight="bold" fill="#000" textLength="52" lengthAdjust="spacingAndGlyphs">16400.00</text>
<text x="1447" y="531.35" font-size="14.5" font-weight="bold" fill="#000" textLength="52" lengthAdjust="spacingAndGlyphs">16395.00</text>
<text x="1447" y="565.1" font-size="14.5" font-weight="bold" fill="#000" textLength="52" lengthAdjust="spacingAndGlyphs">16390.00</text>
<rect x="1446" y="174" width="55" height="16" fill="#ff0000"/>
<text x="1447" y="187.5" font-size="14.5" font-weight="bold" fill="#fff" textLength="52" lengthAdjust="spacingAndGlyphs">16446.17</text>
<text x="1447" y="606.1" font-size="14.5" font-weight="bold" fill="#000" textLength="19.5" lengthAdjust="spacingAndGlyphs">100</text>
<text x="1447" y="647.1" font-size="14.5" font-weight="bold" fill="#000" textLength="13" lengthAdjust="spacingAndGlyphs">50</text>
<text x="1447" y="688.5" font-size="14.5" font-weight="bold" fill="#000">0</text>
<rect x="1446" y="680" width="32" height="4" fill="#008000"/>
<rect x="1446" y="664" width="32" height="16" fill="#ff0000"/>
<text x="1447" y="677.5" font-size="14.5" font-weight="bold" fill="#fff" textLength="30" lengthAdjust="spacingAndGlyphs">19.15</text>
<text x="1447" y="708.5" font-size="14.5" font-weight="bold" fill="#000" textLength="19.5" lengthAdjust="spacingAndGlyphs">100</text>
<text x="1447" y="738.7" font-size="14.5" font-weight="bold" fill="#000" textLength="13" lengthAdjust="spacingAndGlyphs">50</text>
<rect x="1446" y="730" width="32" height="16" fill="#0000ff"/>
<text x="1447" y="743.5" font-size="14.5" font-weight="bold" fill="#fff" textLength="30" lengthAdjust="spacingAndGlyphs">43.31</text>
<text x="1447" y="769.5" font-size="14.5" font-weight="bold" fill="#000">0</text>
<text x="822" y="785.6" font-size="14.5" font-weight="bold" fill="#000" text-anchor="middle" textLength="31.5" lengthAdjust="spacingAndGlyphs">19:30</text>
<text x="942" y="785.6" font-size="14.5" font-weight="bold" fill="#000" text-anchor="middle" textLength="31.5" lengthAdjust="spacingAndGlyphs">20:00</text>
<text x="1062" y="785.6" font-size="14.5" font-weight="bold" fill="#000" text-anchor="middle" textLength="31.5" lengthAdjust="spacingAndGlyphs">20:30</text>
<text x="1182" y="785.6" font-size="14.5" font-weight="bold" fill="#000" text-anchor="middle" textLength="31.5" lengthAdjust="spacingAndGlyphs">21:00</text>
<text x="1302" y="785.6" font-size="14.5" font-weight="bold" fill="#000" text-anchor="middle" textLength="31.5" lengthAdjust="spacingAndGlyphs">21:30</text>
<text x="1422" y="785.6" font-size="14.5" font-weight="bold" fill="#000" text-anchor="middle" textLength="31.5" lengthAdjust="spacingAndGlyphs">22:00</text>
<g shape-rendering="crispEdges">
<rect x="0" y="252" width="725" height="541" fill="#fff"/>
<rect x="0" y="252" width="720" height="1" fill="#d0d4c8"/>
<rect x="0" y="253" width="720" height="1" fill="#fff"/>
<rect x="0" y="254" width="722" height="2" fill="#d4d0c8"/>
<rect x="0" y="252" width="361" height="4" fill="url(#purple)"/>
<rect x="0" y="256" width="724" height="1" fill="#606050"/>
<rect x="0" y="257" width="724" height="1" fill="#202020"/>
<rect x="615" y="252" width="16" height="4" fill="#fff"/>
<rect x="633" y="252" width="18" height="4" fill="#fff"/>
<rect x="651" y="252" width="16" height="2" fill="#000"/>
<rect x="651" y="254" width="16" height="2" fill="#fff"/>
<rect x="719" y="252" width="1" height="541" fill="#d0d4c8"/>
<rect x="720" y="253" width="1" height="540" fill="#fff"/>
<rect x="721" y="254" width="2" height="539" fill="#d4d0c8"/>
<rect x="723" y="252" width="1" height="541" fill="#707070"/>
<rect x="724" y="252" width="1" height="541" fill="#303030"/>
<rect x="662" y="258" width="1" height="515" fill="#000"/>
<rect x="0" y="772" width="663" height="1" fill="#000"/>
<rect x="341" y="258" width="1" height="514" fill="#ff0000"/>
<rect x="0" y="717" width="662" height="1" fill="#ff0000"/>
</g>
<line x1="0" y1="716.8" x2="662" y2="519.8" stroke="#a8a8a8" stroke-width="1" shape-rendering="crispEdges"/>
<g clip-path="url(#cBL)" shape-rendering="crispEdges">
<line x1="-1" y1="699.5" x2="172.3" y2="452.2" stroke="#0000ff" stroke-width="2.3"/>
<line x1="172" y1="452" x2="153.2" y2="463.2" stroke="#0000ff" stroke-width="2"/>
<line x1="171.6" y1="452" x2="168.3" y2="473.5" stroke="#0000ff" stroke-width="2"/>
</g>
<g clip-path="url(#cBL)" shape-rendering="crispEdges">
<rect x="1" y="672" width="1" height="31" fill="#000"/>
<rect x="0" y="674" width="3" height="25" fill="#000"/>
<rect x="1" y="675" width="1" height="23" fill="#00ff00"/>
<rect x="5" y="660" width="3" height="13" fill="#000"/>
<rect x="6" y="661" width="1" height="11" fill="#00ff00"/>
<rect x="11" y="649" width="1" height="19" fill="#000"/>
<rect x="10" y="658" width="3" height="1" fill="#000"/>
<rect x="16" y="639" width="1" height="17" fill="#000"/>
<rect x="15" y="649" width="3" height="7" fill="#000"/>
<rect x="16" y="650" width="1" height="5" fill="#00ff00"/>
<rect x="21" y="645" width="1" height="17" fill="#000"/>
<rect x="20" y="647" width="3" height="1" fill="#000"/>
<rect x="26" y="641" width="1" height="19" fill="#000"/>
<rect x="25" y="647" width="3" height="13" fill="#000"/>
<rect x="26" y="648" width="1" height="11" fill="#ff0000"/>
<rect x="31" y="636" width="1" height="26" fill="#000"/>
<rect x="30" y="636" width="3" height="24" fill="#000"/>
<rect x="31" y="637" width="1" height="22" fill="#00ff00"/>
<rect x="36" y="611" width="1" height="24" fill="#000"/>
<rect x="35" y="613" width="3" height="22" fill="#000"/>
<rect x="36" y="614" width="1" height="20" fill="#00ff00"/>
<rect x="41" y="597" width="1" height="19" fill="#000"/>
<rect x="40" y="604" width="3" height="9" fill="#000"/>
<rect x="41" y="605" width="1" height="7" fill="#00ff00"/>
<rect x="46" y="600" width="1" height="16" fill="#000"/>
<rect x="45" y="602" width="3" height="1" fill="#000"/>
<rect x="51" y="601" width="1" height="17" fill="#000"/>
<rect x="50" y="602" width="3" height="1" fill="#000"/>
<rect x="56" y="596" width="1" height="5" fill="#000"/>
<rect x="55" y="598" width="3" height="3" fill="#000"/>
<rect x="56" y="599" width="1" height="1" fill="#00ff00"/>
<rect x="61" y="599" width="1" height="27" fill="#000"/>
<rect x="60" y="599" width="3" height="21" fill="#000"/>
<rect x="61" y="600" width="1" height="19" fill="#ff0000"/>
<rect x="66" y="616" width="1" height="12" fill="#000"/>
<rect x="65" y="622" width="3" height="5" fill="#000"/>
<rect x="66" y="623" width="1" height="3" fill="#ff0000"/>
<rect x="70" y="598" width="3" height="28" fill="#000"/>
<rect x="71" y="599" width="1" height="26" fill="#00ff00"/>
<rect x="76" y="590" width="1" height="12" fill="#000"/>
<rect x="75" y="597" width="3" height="1" fill="#000"/>
<rect x="81" y="575" width="1" height="21" fill="#000"/>
<rect x="80" y="578" width="3" height="18" fill="#000"/>
<rect x="81" y="579" width="1" height="16" fill="#00ff00"/>
<rect x="86" y="569" width="1" height="13" fill="#000"/>
<rect x="85" y="575" width="3" height="5" fill="#000"/>
<rect x="86" y="576" width="1" height="3" fill="#00ff00"/>
<rect x="91" y="573" width="1" height="19" fill="#000"/>
<rect x="90" y="573" width="3" height="11" fill="#000"/>
<rect x="91" y="574" width="1" height="9" fill="#ff0000"/>
<rect x="96" y="584" width="1" height="9" fill="#000"/>
<rect x="95" y="585" width="3" height="4" fill="#000"/>
<rect x="96" y="586" width="1" height="2" fill="#ff0000"/>
<rect x="101" y="583" width="1" height="9" fill="#000"/>
<rect x="100" y="590" width="3" height="2" fill="#000"/>
<rect x="101" y="590" width="1" height="2" fill="#ff0000"/>
<rect x="106" y="589" width="1" height="8" fill="#000"/>
<rect x="105" y="592" width="3" height="3" fill="#000"/>
<rect x="106" y="593" width="1" height="1" fill="#ff0000"/>
<rect x="111" y="591" width="1" height="9" fill="#000"/>
<rect x="110" y="595" width="3" height="1" fill="#000"/>
<rect x="116" y="579" width="1" height="16" fill="#000"/>
<rect x="115" y="580" width="3" height="13" fill="#000"/>
<rect x="116" y="581" width="1" height="11" fill="#00ff00"/>
<rect x="121" y="568" width="1" height="12" fill="#000"/>
<rect x="120" y="573" width="3" height="7" fill="#000"/>
<rect x="121" y="574" width="1" height="5" fill="#00ff00"/>
<rect x="125" y="531" width="3" height="42" fill="#000"/>
<rect x="126" y="532" width="1" height="40" fill="#00ff00"/>
<rect x="131" y="512" width="1" height="15" fill="#000"/>
<rect x="130" y="516" width="3" height="11" fill="#000"/>
<rect x="131" y="517" width="1" height="9" fill="#00ff00"/>
<rect x="136" y="495" width="1" height="21" fill="#000"/>
<rect x="135" y="497" width="3" height="18" fill="#000"/>
<rect x="136" y="498" width="1" height="16" fill="#00ff00"/>
<rect x="141" y="496" width="1" height="5" fill="#000"/>
<rect x="140" y="496" width="3" height="4" fill="#000"/>
<rect x="141" y="497" width="1" height="2" fill="#ff0000"/>
<rect x="146" y="489" width="1" height="11" fill="#000"/>
<rect x="145" y="497" width="3" height="3" fill="#000"/>
<rect x="146" y="498" width="1" height="1" fill="#00ff00"/>
<rect x="151" y="494" width="1" height="19" fill="#000"/>
<rect x="150" y="497" width="3" height="12" fill="#000"/>
<rect x="151" y="498" width="1" height="10" fill="#ff0000"/>
<rect x="156" y="500" width="1" height="10" fill="#000"/>
<rect x="155" y="504" width="3" height="6" fill="#000"/>
<rect x="156" y="505" width="1" height="4" fill="#00ff00"/>
<rect x="161" y="498" width="1" height="6" fill="#000"/>
<rect x="160" y="499" width="3" height="4" fill="#000"/>
<rect x="161" y="500" width="1" height="2" fill="#00ff00"/>
<rect x="165" y="483" width="3" height="16" fill="#000"/>
<rect x="166" y="484" width="1" height="14" fill="#00ff00"/>
<rect x="170" y="466" width="3" height="17" fill="#000"/>
<rect x="171" y="467" width="1" height="15" fill="#00ff00"/>
<rect x="176" y="456" width="1" height="12" fill="#000"/>
<rect x="175" y="456" width="3" height="9" fill="#000"/>
<rect x="176" y="457" width="1" height="7" fill="#00ff00"/>
<rect x="181" y="456" width="1" height="21" fill="#000"/>
<rect x="180" y="456" width="3" height="14" fill="#000"/>
<rect x="181" y="457" width="1" height="12" fill="#ff0000"/>
<rect x="186" y="466" width="1" height="11" fill="#000"/>
<rect x="185" y="471" width="3" height="6" fill="#000"/>
<rect x="186" y="472" width="1" height="4" fill="#ff0000"/>
<rect x="191" y="476" width="1" height="10" fill="#000"/>
<rect x="190" y="478" width="3" height="8" fill="#000"/>
<rect x="191" y="479" width="1" height="6" fill="#ff0000"/>
<rect x="196" y="484" width="1" height="8" fill="#000"/>
<rect x="195" y="487" width="3" height="1" fill="#000"/>
<rect x="200" y="488" width="3" height="13" fill="#000"/>
<rect x="201" y="489" width="1" height="11" fill="#ff0000"/>
<rect x="206" y="492" width="1" height="10" fill="#000"/>
<rect x="205" y="492" width="3" height="9" fill="#000"/>
<rect x="206" y="493" width="1" height="7" fill="#00ff00"/>
<rect x="211" y="489" width="1" height="10" fill="#000"/>
<rect x="210" y="491" width="3" height="7" fill="#000"/>
<rect x="211" y="492" width="1" height="5" fill="#ff0000"/>
<rect x="216" y="483" width="1" height="15" fill="#000"/>
<rect x="215" y="484" width="3" height="14" fill="#000"/>
<rect x="216" y="485" width="1" height="12" fill="#00ff00"/>
<rect x="221" y="462" width="1" height="23" fill="#000"/>
<rect x="220" y="477" width="3" height="6" fill="#000"/>
<rect x="221" y="478" width="1" height="4" fill="#00ff00"/>
<rect x="226" y="470" width="1" height="8" fill="#000"/>
<rect x="225" y="477" width="3" height="1" fill="#000"/>
<rect x="231" y="479" width="1" height="12" fill="#000"/>
<rect x="230" y="479" width="3" height="9" fill="#000"/>
<rect x="231" y="480" width="1" height="7" fill="#ff0000"/>
<rect x="235" y="487" width="3" height="32" fill="#000"/>
<rect x="236" y="488" width="1" height="30" fill="#ff0000"/>
<rect x="241" y="504" width="1" height="24" fill="#000"/>
<rect x="240" y="504" width="3" height="15" fill="#000"/>
<rect x="241" y="505" width="1" height="13" fill="#00ff00"/>
<rect x="246" y="502" width="1" height="10" fill="#000"/>
<rect x="245" y="504" width="3" height="8" fill="#000"/>
<rect x="246" y="505" width="1" height="6" fill="#ff0000"/>
<rect x="250" y="512" width="3" height="13" fill="#000"/>
<rect x="251" y="513" width="1" height="11" fill="#ff0000"/>
<rect x="256" y="515" width="1" height="13" fill="#000"/>
<rect x="255" y="524" width="3" height="1" fill="#000"/>
<rect x="261" y="521" width="1" height="7" fill="#000"/>
<rect x="260" y="527" width="3" height="1" fill="#000"/>
<rect x="266" y="527" width="1" height="22" fill="#000"/>
<rect x="265" y="527" width="3" height="9" fill="#000"/>
<rect x="266" y="528" width="1" height="7" fill="#ff0000"/>
<rect x="271" y="533" width="1" height="26" fill="#000"/>
<rect x="270" y="536" width="3" height="19" fill="#000"/>
<rect x="271" y="537" width="1" height="17" fill="#ff0000"/>
<rect x="275" y="555" width="3" height="21" fill="#000"/>
<rect x="276" y="556" width="1" height="19" fill="#ff0000"/>
<rect x="281" y="576" width="1" height="56" fill="#000"/>
<rect x="280" y="576" width="3" height="55" fill="#000"/>
<rect x="281" y="577" width="1" height="53" fill="#ff0000"/>
<rect x="285" y="609" width="3" height="21" fill="#000"/>
<rect x="286" y="610" width="1" height="19" fill="#00ff00"/>
<rect x="291" y="607" width="1" height="8" fill="#000"/>
<rect x="290" y="607" width="3" height="1" fill="#000"/>
<rect x="295" y="573" width="3" height="34" fill="#000"/>
<rect x="296" y="574" width="1" height="32" fill="#00ff00"/>
<rect x="301" y="573" width="1" height="10" fill="#000"/>
<rect x="300" y="573" width="3" height="7" fill="#000"/>
<rect x="301" y="574" width="1" height="5" fill="#ff0000"/>
<rect x="305" y="581" width="3" height="13" fill="#000"/>
<rect x="306" y="582" width="1" height="11" fill="#ff0000"/>
<rect x="311" y="560" width="1" height="36" fill="#000"/>
<rect x="310" y="560" width="3" height="34" fill="#000"/>
<rect x="311" y="561" width="1" height="32" fill="#00ff00"/>
<rect x="315" y="560" width="3" height="4" fill="#000"/>
<rect x="316" y="561" width="1" height="2" fill="#ff0000"/>
<rect x="321" y="562" width="1" height="6" fill="#000"/>
<rect x="320" y="562" width="3" height="2" fill="#000"/>
<rect x="321" y="562" width="1" height="2" fill="#00ff00"/>
<rect x="326" y="560" width="1" height="11" fill="#000"/>
<rect x="325" y="561" width="3" height="5" fill="#000"/>
<rect x="326" y="562" width="1" height="3" fill="#ff0000"/>
<rect x="330" y="569" width="3" height="22" fill="#000"/>
<rect x="331" y="570" width="1" height="20" fill="#ff0000"/>
<rect x="336" y="579" width="1" height="14" fill="#000"/>
<rect x="335" y="582" width="3" height="9" fill="#000"/>
<rect x="336" y="583" width="1" height="7" fill="#00ff00"/>
<rect x="340" y="564" width="3" height="18" fill="#000"/>
<rect x="341" y="565" width="1" height="16" fill="#0000ff"/>
<rect x="346" y="520" width="1" height="43" fill="#000"/>
<rect x="345" y="521" width="3" height="42" fill="#000"/>
<rect x="346" y="522" width="1" height="40" fill="#00ff00"/>
<rect x="351" y="498" width="1" height="21" fill="#000"/>
<rect x="350" y="499" width="3" height="20" fill="#000"/>
<rect x="351" y="500" width="1" height="18" fill="#00ff00"/>
<rect x="356" y="496" width="1" height="7" fill="#000"/>
<rect x="355" y="497" width="3" height="1" fill="#000"/>
<rect x="361" y="475" width="1" height="21" fill="#000"/>
<rect x="360" y="483" width="3" height="13" fill="#000"/>
<rect x="361" y="484" width="1" height="11" fill="#00ff00"/>
<rect x="366" y="475" width="1" height="13" fill="#000"/>
<rect x="365" y="483" width="3" height="3" fill="#000"/>
<rect x="366" y="484" width="1" height="1" fill="#ff0000"/>
<rect x="371" y="492" width="1" height="26" fill="#000"/>
<rect x="370" y="492" width="3" height="24" fill="#000"/>
<rect x="371" y="493" width="1" height="22" fill="#ff0000"/>
<rect x="376" y="506" width="1" height="23" fill="#000"/>
<rect x="375" y="516" width="3" height="13" fill="#000"/>
<rect x="376" y="517" width="1" height="11" fill="#ff0000"/>
<rect x="380" y="510" width="3" height="20" fill="#000"/>
<rect x="381" y="511" width="1" height="18" fill="#00ff00"/>
<rect x="386" y="489" width="1" height="20" fill="#000"/>
<rect x="385" y="508" width="3" height="1" fill="#000"/>
<rect x="391" y="491" width="1" height="18" fill="#000"/>
<rect x="390" y="492" width="3" height="17" fill="#000"/>
<rect x="391" y="493" width="1" height="15" fill="#00ff00"/>
<rect x="396" y="470" width="1" height="26" fill="#000"/>
<rect x="395" y="476" width="3" height="16" fill="#000"/>
<rect x="396" y="477" width="1" height="14" fill="#00ff00"/>
<rect x="401" y="439" width="1" height="35" fill="#000"/>
<rect x="400" y="444" width="3" height="30" fill="#000"/>
<rect x="401" y="445" width="1" height="28" fill="#00ff00"/>
<rect x="406" y="444" width="1" height="24" fill="#000"/>
<rect x="405" y="444" width="3" height="20" fill="#000"/>
<rect x="406" y="445" width="1" height="18" fill="#ff0000"/>
<rect x="411" y="445" width="1" height="23" fill="#000"/>
<rect x="410" y="461" width="3" height="3" fill="#000"/>
<rect x="411" y="462" width="1" height="1" fill="#00ff00"/>
<rect x="416" y="458" width="1" height="16" fill="#000"/>
<rect x="415" y="461" width="3" height="12" fill="#000"/>
<rect x="416" y="462" width="1" height="10" fill="#ff0000"/>
<rect x="421" y="459" width="1" height="16" fill="#000"/>
<rect x="420" y="469" width="3" height="4" fill="#000"/>
<rect x="421" y="470" width="1" height="2" fill="#00ff00"/>
<rect x="426" y="454" width="1" height="23" fill="#000"/>
<rect x="425" y="469" width="3" height="8" fill="#000"/>
<rect x="426" y="470" width="1" height="6" fill="#ff0000"/>
<rect x="431" y="475" width="1" height="14" fill="#000"/>
<rect x="430" y="477" width="3" height="5" fill="#000"/>
<rect x="431" y="478" width="1" height="3" fill="#ff0000"/>
<rect x="436" y="484" width="1" height="25" fill="#000"/>
<rect x="435" y="484" width="3" height="8" fill="#000"/>
<rect x="436" y="485" width="1" height="6" fill="#ff0000"/>
<rect x="441" y="470" width="1" height="25" fill="#000"/>
<rect x="440" y="473" width="3" height="20" fill="#000"/>
<rect x="441" y="474" width="1" height="18" fill="#00ff00"/>
<rect x="446" y="458" width="1" height="16" fill="#000"/>
<rect x="445" y="458" width="3" height="13" fill="#000"/>
<rect x="446" y="459" width="1" height="11" fill="#00ff00"/>
<rect x="451" y="457" width="1" height="21" fill="#000"/>
<rect x="450" y="457" width="3" height="13" fill="#000"/>
<rect x="451" y="458" width="1" height="11" fill="#ff0000"/>
<rect x="456" y="446" width="1" height="26" fill="#000"/>
<rect x="455" y="447" width="3" height="23" fill="#000"/>
<rect x="456" y="448" width="1" height="21" fill="#00ff00"/>
<rect x="461" y="430" width="1" height="31" fill="#000"/>
<rect x="460" y="448" width="3" height="13" fill="#000"/>
<rect x="461" y="449" width="1" height="11" fill="#ff0000"/>
<rect x="466" y="463" width="1" height="22" fill="#000"/>
<rect x="465" y="464" width="3" height="21" fill="#000"/>
<rect x="466" y="465" width="1" height="19" fill="#ff0000"/>
<rect x="471" y="482" width="1" height="19" fill="#000"/>
<rect x="470" y="487" width="3" height="7" fill="#000"/>
<rect x="471" y="488" width="1" height="5" fill="#ff0000"/>
<rect x="475" y="494" width="3" height="1" fill="#000"/>
<rect x="475" y="493" width="3" height="2" fill="#000"/>
</g>
<g shape-rendering="crispEdges">
<rect x="170" y="378" width="2" height="67" fill="#000"/>
<line x1="161.7" y1="424" x2="171" y2="445.5" stroke="#000" stroke-width="1.8"/>
<line x1="180.6" y1="424" x2="171.2" y2="445.5" stroke="#000" stroke-width="1.8"/>
</g>
<text x="126.6" y="371.4" font-size="14.5" font-weight="bold" fill="#000" textLength="80.5" lengthAdjust="spacingAndGlyphs">Webinarstart</text>
<text x="0" y="271.1" font-size="14.5" font-weight="bold" fill="#000" textLength="417" lengthAdjust="spacingAndGlyphs">($INDU - DOW JONES INDUSTRIAL AVERAGE,3) Dynamic,0:00-24:00</text>
<g shape-rendering="crispEdges">
<rect x="0" y="381" width="110" height="130" fill="#808080"/>
<rect x="0" y="381" width="108" height="1" fill="#d4d0c8"/>
<rect x="0" y="382" width="108" height="1" fill="#fff"/>
<rect x="0" y="383" width="108" height="1" fill="#c0b0c0"/>
<rect x="0" y="384" width="108" height="125" fill="#000"/>
<rect x="0" y="384" width="107" height="12" fill="#00ff00"/>
<rect x="0" y="396" width="108" height="1" fill="#fff"/>
<rect x="107" y="384" width="1" height="13" fill="#fff"/>
</g>
<text x="52.7" y="393.8" font-size="11" font-weight="normal" fill="#000" text-anchor="middle" textLength="14.7" lengthAdjust="spacingAndGlyphs">OK</text>
<text x="2.3999999999999986" y="407.8" font-size="11" font-weight="normal" fill="#fff" textLength="37.0" lengthAdjust="spacingAndGlyphs">Symbol:</text>
<text x="44.3" y="407.8" font-size="11" font-weight="normal" fill="#fff" textLength="37.9" lengthAdjust="spacingAndGlyphs">$INDU,3</text>
<text x="15.2" y="421.8" font-size="11" font-weight="normal" fill="#fff" textLength="24.2" lengthAdjust="spacingAndGlyphs">Date:</text>
<text x="44.3" y="421.8" font-size="11" font-weight="normal" fill="#fff" textLength="41.3" lengthAdjust="spacingAndGlyphs">01/09/14</text>
<text x="14.899999999999999" y="435.8" font-size="11" font-weight="normal" fill="#fff" textLength="24.5" lengthAdjust="spacingAndGlyphs">Time:</text>
<text x="44.3" y="435.8" font-size="11" font-weight="normal" fill="#fff" textLength="26.5" lengthAdjust="spacingAndGlyphs">20:39</text>
<text x="12.899999999999999" y="449.8" font-size="11" font-weight="normal" fill="#fff" textLength="26.5" lengthAdjust="spacingAndGlyphs">Price:</text>
<text x="44.3" y="449.8" font-size="11" font-weight="normal" fill="#fff" textLength="56.5" lengthAdjust="spacingAndGlyphs">16378.6464</text>
<text x="13.899999999999999" y="463.8" font-size="11" font-weight="normal" fill="#fff" textLength="25.5" lengthAdjust="spacingAndGlyphs">Open</text>
<text x="44.3" y="463.8" font-size="11" font-weight="normal" fill="#fff" textLength="44.2" lengthAdjust="spacingAndGlyphs">16419.37</text>
<text x="19.0" y="477.8" font-size="11" font-weight="normal" fill="#fff" textLength="20.4" lengthAdjust="spacingAndGlyphs">High</text>
<text x="44.3" y="477.8" font-size="11" font-weight="normal" fill="#fff" textLength="44.2" lengthAdjust="spacingAndGlyphs">16424.85</text>
<text x="18.099999999999998" y="491.8" font-size="11" font-weight="normal" fill="#fff" textLength="21.3" lengthAdjust="spacingAndGlyphs">Low</text>
<text x="44.3" y="491.8" font-size="11" font-weight="normal" fill="#fff" textLength="44.2" lengthAdjust="spacingAndGlyphs">16419.14</text>
<text x="12.899999999999999" y="505.8" font-size="11" font-weight="normal" fill="#fff" textLength="26.5" lengthAdjust="spacingAndGlyphs">Close</text>
<text x="44.3" y="505.8" font-size="11" font-weight="normal" fill="#fff" textLength="44.2" lengthAdjust="spacingAndGlyphs">16424.72</text>
<text x="432.9" y="371.2" font-size="27.5" font-weight="bold" fill="#ff0000" textLength="83.6" lengthAdjust="spacingAndGlyphs" stroke="#ff0000" stroke-width="1.2" paint-order="stroke">16481</text>
<text x="336.9" y="388.3" font-size="16" font-weight="bold" fill="#000" textLength="141.7" lengthAdjust="spacingAndGlyphs">+1 R / +21,00 Punkte</text>
<text x="486.6" y="463.0" font-size="16" font-weight="bold" fill="#008000" textLength="103.8" lengthAdjust="spacingAndGlyphs">Ausstieg 16458</text>
<text x="443" y="522.3" font-size="16" font-weight="bold" fill="#008000" textLength="82.5" lengthAdjust="spacingAndGlyphs">Stopp 16441</text>
<text x="406.9" y="538.0" font-size="16" font-weight="bold" fill="#008000" textLength="100.5" lengthAdjust="spacingAndGlyphs">Einstieg 16437</text>
<text x="377.8" y="562.3" font-size="16" font-weight="bold" fill="#008000" textLength="83.9" lengthAdjust="spacingAndGlyphs">Stopp 16426</text>
<text x="372.6" y="607.9" font-size="16" font-weight="bold" fill="#008000" textLength="83.9" lengthAdjust="spacingAndGlyphs">Stopp 16416</text>
<text x="436.9" y="628.9" font-size="16" font-weight="bold" fill="#000" textLength="141.5" lengthAdjust="spacingAndGlyphs">+1 R / +21,00 Punkte</text>
<text x="326.6" y="645.1" font-size="14.5" font-weight="bold" fill="#000" textLength="92.9" lengthAdjust="spacingAndGlyphs">1R = 21 Punkte</text>
<text x="446.5" y="647.5" font-size="14.5" font-weight="bold" fill="#000" textLength="49.8" lengthAdjust="spacingAndGlyphs">3. Trade</text>
<text x="421.5" y="665.9" font-size="16" font-weight="bold" fill="#008000" textLength="101" lengthAdjust="spacingAndGlyphs">Einstieg 16437</text>
<text x="417.5" y="686.8" font-size="16" font-weight="bold" fill="#008000" textLength="84" lengthAdjust="spacingAndGlyphs">Stopp 16416</text>
<text x="426.5" y="705.8" font-size="16" font-weight="bold" fill="#008000" textLength="104" lengthAdjust="spacingAndGlyphs">Ausstieg 16458</text>
<text x="326.6" y="677.0" font-size="14.5" font-weight="bold" fill="#000" textLength="58" lengthAdjust="spacingAndGlyphs">1R 16.458</text>
<text x="326.6" y="692.93" font-size="14.5" font-weight="bold" fill="#000" textLength="58" lengthAdjust="spacingAndGlyphs">2R 16.479</text>
<text x="326.6" y="708.86" font-size="14.5" font-weight="bold" fill="#000" textLength="58" lengthAdjust="spacingAndGlyphs">3R 16.500</text>
<text x="326.6" y="724.79" font-size="14.5" font-weight="bold" fill="#000" textLength="58" lengthAdjust="spacingAndGlyphs">4R 16.521</text>
<text x="121.1" y="637.9" font-size="16" font-weight="bold" fill="#ff0000" textLength="57.3" lengthAdjust="spacingAndGlyphs">Einstieg</text>
<text x="121.9" y="670.4" font-size="16" font-weight="bold" fill="#ff0000" textLength="40.6" lengthAdjust="spacingAndGlyphs">Stopp</text>
<text x="266.7" y="650.1" font-size="14.5" font-weight="bold" fill="#000" textLength="34.5" lengthAdjust="spacingAndGlyphs">16404</text>
<text x="0" y="768.3" font-size="9" font-weight="normal" fill="#000" textLength="55" lengthAdjust="spacingAndGlyphs" stroke="#000" stroke-width="0.3">© eSignal, 2010</text>
<text x="42.3" y="785.5" font-size="14.5" font-weight="bold" fill="#000" text-anchor="middle" textLength="31.5" lengthAdjust="spacingAndGlyphs">17:30</text>
<text x="92.3" y="785.5" font-size="14.5" font-weight="bold" fill="#000" text-anchor="middle" textLength="31.5" lengthAdjust="spacingAndGlyphs">18:00</text>
<text x="142.3" y="785.5" font-size="14.5" font-weight="bold" fill="#000" text-anchor="middle" textLength="31.5" lengthAdjust="spacingAndGlyphs">18:30</text>
<text x="192.3" y="785.5" font-size="14.5" font-weight="bold" fill="#000" text-anchor="middle" textLength="31.5" lengthAdjust="spacingAndGlyphs">19:00</text>
<text x="242.3" y="785.5" font-size="14.5" font-weight="bold" fill="#000" text-anchor="middle" textLength="31.5" lengthAdjust="spacingAndGlyphs">19:30</text>
<text x="292.3" y="785.5" font-size="14.5" font-weight="bold" fill="#000" text-anchor="middle" textLength="31.5" lengthAdjust="spacingAndGlyphs">20:00</text>
<text x="342.3" y="785.5" font-size="14.5" font-weight="bold" fill="#000" text-anchor="middle" textLength="31.5" lengthAdjust="spacingAndGlyphs">20:30</text>
<text x="392.3" y="785.5" font-size="14.5" font-weight="bold" fill="#000" text-anchor="middle" textLength="31.5" lengthAdjust="spacingAndGlyphs">21:00</text>
<text x="442.3" y="785.5" font-size="14.5" font-weight="bold" fill="#000" text-anchor="middle" textLength="31.5" lengthAdjust="spacingAndGlyphs">21:30</text>
<text x="492.3" y="785.5" font-size="14.5" font-weight="bold" fill="#000" text-anchor="middle" textLength="31.5" lengthAdjust="spacingAndGlyphs">22:00</text>
<text x="663.7" y="322.0" font-size="14.5" font-weight="bold" fill="#000" textLength="52.2" lengthAdjust="spacingAndGlyphs">16500.00</text>
<text x="663.7" y="387.7" font-size="14.5" font-weight="bold" fill="#000" textLength="52.2" lengthAdjust="spacingAndGlyphs">16480.00</text>
<text x="663.7" y="453.4" font-size="14.5" font-weight="bold" fill="#000" textLength="52.2" lengthAdjust="spacingAndGlyphs">16460.00</text>
<text x="663.7" y="519.1" font-size="14.5" font-weight="bold" fill="#000" textLength="52.2" lengthAdjust="spacingAndGlyphs">16440.00</text>
<text x="663.7" y="584.8" font-size="14.5" font-weight="bold" fill="#000" textLength="52.2" lengthAdjust="spacingAndGlyphs">16420.00</text>
<text x="663.7" y="650.5" font-size="14.5" font-weight="bold" fill="#000" textLength="52.2" lengthAdjust="spacingAndGlyphs">16400.00</text>
<text x="663.7" y="716.2" font-size="14.5" font-weight="bold" fill="#000" textLength="52.2" lengthAdjust="spacingAndGlyphs">16380.00</text>
<rect x="663" y="486" width="53" height="16" fill="#ff0000"/>
<text x="663.7" y="498.9" font-size="14.5" font-weight="bold" fill="#fff" textLength="52.2" lengthAdjust="spacingAndGlyphs">16446.17</text>
</svg>
</body></html>
